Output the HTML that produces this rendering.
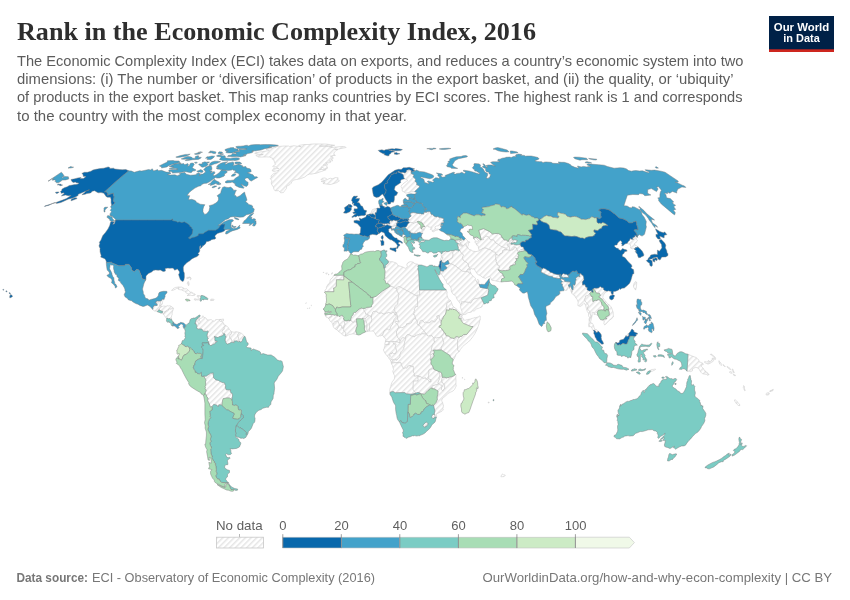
<!DOCTYPE html>
<html><head><meta charset="utf-8"><title>Rank in the Economic Complexity Index, 2016</title>
<style>
html,body{margin:0;padding:0;background:#fff;}
body{width:850px;height:600px;overflow:hidden;position:relative;font-family:"Liberation Sans",sans-serif;}
svg{position:absolute;left:0;top:0;}
text{font-family:"Liberation Sans",sans-serif;}
.title{font-family:"Liberation Serif",serif;font-weight:bold;font-size:25px;fill:#2e2e2e;}
.sub{font-size:14.8px;fill:#5c5c5c;}
.foot{font-size:13px;fill:#777;}
.leg{font-size:13px;fill:#5f5f5f;}
.logo{font-size:11px;font-weight:bold;fill:#fff;}
.nd path{fill:url(#hatch);stroke:#c6c6c6;stroke-width:0.5;stroke-linejoin:round;}
.cd path{fill-rule:evenodd;stroke:#7a7a7a;stroke-opacity:0.9;stroke-width:0.5;stroke-linejoin:round;}
</style></head><body>
<svg width="850" height="600" viewBox="0 0 850 600">
<defs>
<pattern id="hatch" patternUnits="userSpaceOnUse" width="4" height="4" patternTransform="rotate(-45)"><rect width="4" height="4" fill="#fff"/><rect width="4" height="1.5" y="1" fill="#e5e5e5"/></pattern>
</defs>
<rect width="850" height="600" fill="#fff"/>
<text class="title" x="17" y="40" textLength="519" lengthAdjust="spacingAndGlyphs">Rank in the Economic Complexity Index, 2016</text>
<text class="sub" x="17" y="66" textLength="726.5" lengthAdjust="spacingAndGlyphs">The Economic Complexity Index (ECI) takes data on exports, and reduces a country’s economic system into two</text>
<text class="sub" x="17" y="84.2" textLength="716.5" lengthAdjust="spacingAndGlyphs">dimensions: (i) The number or ‘diversification’ of products in the export basket, and (ii) the quality, or ‘ubiquity’</text>
<text class="sub" x="17" y="102.4" textLength="725.5" lengthAdjust="spacingAndGlyphs">of products in the export basket. This map ranks countries by ECI scores. The highest rank is 1 and corresponds</text>
<text class="sub" x="17" y="120.7" textLength="390" lengthAdjust="spacingAndGlyphs">to the country with the most complex economy in that year.</text>
<g id="logo">
<rect x="769" y="16" width="65" height="36" fill="#002147"/>
<rect x="769" y="49.3" width="65" height="2.7" fill="#ce261e"/>
<text class="logo" x="801.5" y="30.7" text-anchor="middle" textLength="55.4" lengthAdjust="spacingAndGlyphs">Our World</text>
<text class="logo" x="801.5" y="42.3" text-anchor="middle" textLength="36.5" lengthAdjust="spacingAndGlyphs">in Data</text>
</g>
<g class="nd">
<path d="M299.0,145.4L304.3,144.5L309.0,144.5L311.0,144.1L315.9,143.9L319.4,144.0L323.0,144.0L326.6,144.1L330.6,144.7L334.7,145.3L331.9,145.9L326.7,145.9L319.2,146.0L319.7,146.4L324.6,146.2L328.7,146.7L331.5,146.2L332.4,146.8L330.6,147.7L334.4,147.2L341.3,146.5L345.4,146.8L346.1,147.5L340.1,148.7L339.2,149.1L334.7,149.4L337.9,149.6L335.9,150.8L334.4,152.0L333.8,154.2L335.4,155.4L333.1,155.6L330.3,156.1L333.0,157.1L332.9,159.0L331.2,159.0L332.8,160.8L329.3,161.0L331.0,161.8L330.2,162.5L327.9,162.9L325.7,162.9L327.4,164.3L327.3,165.2L324.2,164.3L323.3,165.0L325.4,165.4L327.3,166.7L327.4,168.4L324.5,168.8L323.4,168.0L321.7,166.9L321.8,168.3L319.6,169.5L324.0,169.5L326.2,169.7L321.5,171.4L316.5,173.2L311.2,174.1L309.4,174.1L307.4,175.0L304.4,177.2L300.1,178.8L299.0,179.0L296.5,179.5L293.9,180.0L291.8,181.6L291.3,183.2L289.9,184.6L286.5,186.4L286.6,188.3L285.1,190.2L283.4,192.6L280.7,192.8L278.7,190.7L275.1,190.7L273.9,189.5L273.5,187.1L271.5,184.3L271.3,182.7L271.8,180.6L270.3,178.6L271.7,177.0L270.9,176.1L273.8,173.4L276.6,172.8L277.7,171.9L278.8,170.1L276.7,170.8L275.5,171.2L273.9,171.4L272.2,170.8L272.8,169.3L274.0,168.2L275.6,168.2L278.7,168.6L276.5,167.3L275.4,166.7L273.6,166.9L272.6,166.4L275.5,164.3L275.0,163.5L274.5,162.1L273.9,160.0L272.4,159.2L272.9,158.4L269.6,157.1L266.6,156.9L262.3,157.1L258.7,157.1L257.3,156.5L255.8,155.4L260.2,154.8L263.3,154.6L257.4,154.2L254.7,153.4L255.5,152.7L262.0,151.7L268.2,150.8L269.4,150.1L266.0,149.6L267.8,148.9L273.8,147.7L276.0,147.5L276.1,146.7L279.7,146.4L284.2,146.0L288.5,146.0L289.7,146.5L293.9,145.7L296.8,146.2L298.7,146.4L301.3,146.8L298.5,146.0Z"/>
<path d="M157.3,311.6L156.2,311.1L154.8,311.1L153.7,310.6L152.7,309.5L152.8,308.8L153.1,308.1L152.9,307.6L154.2,305.5L157.1,305.5L157.3,304.6L156.9,304.3L156.8,303.8L155.9,303.3L155.2,302.4L156.2,302.4L156.4,301.0L158.5,301.0L160.7,301.0L160.4,303.0L159.9,305.9L160.5,305.9L161.2,306.4L161.5,306.0L162.1,306.4L160.9,307.3L159.8,308.1L159.6,309.0L159.2,309.8L158.6,309.9L158.8,310.2L158.3,310.5L157.4,311.2Z"/>
<path d="M160.7,301.0L160.7,300.5L161.0,300.4L161.4,300.7L162.3,299.1L162.8,299.1L162.7,299.5L163.2,299.5L163.1,300.2L162.5,301.3L162.7,301.7L162.4,302.7L162.5,302.9L162.0,304.3L161.5,304.9L161.1,305.1L160.5,305.9L159.9,305.9L160.4,303.0Z"/>
<path d="M163.5,313.5L163.1,312.7L162.5,312.4L162.7,311.4L162.4,311.1L162.0,311.0L161.0,311.3L160.9,310.9L160.3,310.5L159.8,310.0L159.2,309.8L159.6,309.0L159.8,308.1L160.9,307.3L162.1,306.4L162.4,306.5L162.9,306.0L163.6,306.0L163.8,306.2L164.1,306.0L165.1,306.3L166.2,306.2L167.0,305.9L167.2,305.7L168.0,305.8L168.5,305.9L169.1,305.9L169.6,305.7L170.6,306.0L170.9,306.1L171.6,306.6L172.2,307.2L173.0,307.6L173.5,308.3L172.7,308.2L172.3,308.6L171.5,308.9L170.9,308.9L170.4,309.3L170.0,309.1L169.6,308.7L169.4,308.8L169.0,309.4L168.8,309.4L168.7,310.0L167.9,310.7L167.4,311.0L167.1,311.3L166.5,310.8L166.0,311.5L165.5,311.4L164.9,311.5L164.9,312.8L164.5,312.8L164.2,313.4Z"/>
<path d="M166.8,318.5L166.0,317.7L165.1,316.6L164.6,315.7L163.7,314.9L162.6,313.7L162.9,313.3L163.3,313.7L163.5,313.5L164.2,313.4L164.5,312.8L164.9,312.8L164.9,311.5L165.5,311.4L166.0,311.5L166.5,310.8L167.1,311.3L167.4,311.0L167.9,310.7L168.7,310.0L168.8,309.4L169.0,309.4L169.4,308.8L169.6,308.7L170.0,309.1L170.4,309.3L170.9,308.9L171.5,308.9L172.3,308.6L172.7,308.2L173.5,308.3L173.3,308.5L173.1,309.1L173.2,310.1L172.6,310.9L172.3,312.0L172.1,313.1L172.2,313.8L172.1,315.0L171.8,315.3L171.5,316.4L171.6,317.1L171.0,317.7L171.1,318.4L171.4,318.9L170.8,319.4L170.2,319.2L169.8,318.7L169.1,318.5L168.6,318.8L167.1,318.1Z"/>
<path d="M178.0,286.9L179.9,287.1L181.7,287.1L183.7,288.0L184.5,289.0L186.6,288.7L187.3,289.3L189.0,290.9L190.3,292.1L191.1,292.0L192.4,292.6L192.1,293.3L193.8,293.4L195.4,294.5L195.0,295.1L193.5,295.4L191.9,295.6L190.4,295.3L187.1,295.6L188.8,294.1L188.0,293.5L186.5,293.3L185.8,292.5L185.5,291.0L184.2,291.1L182.2,290.4L181.6,289.9L178.7,289.5L178.0,289.0L178.9,288.3L176.7,288.2L174.9,289.6L174.0,289.6L173.6,290.2L172.4,290.5L171.5,290.3L172.8,289.5L173.4,288.5L174.5,287.9L175.7,287.4L177.4,287.2Z"/>
<path d="M197.5,295.4L198.9,295.6L200.8,296.0L200.8,297.4L200.6,298.4L199.9,298.8L200.4,299.6L200.3,300.3L198.9,299.9L197.8,300.0L196.4,299.9L195.3,300.4L194.2,299.5L194.5,298.7L196.5,299.1L198.2,299.3L199.1,298.7L198.2,297.6L198.3,296.6L196.9,296.2Z"/>
<path d="M212.8,299.1L213.9,299.3L214.3,299.8L213.6,300.5L211.9,300.5L210.6,300.6L210.6,299.5L210.9,299.1Z"/>
<path d="M188.9,285.4L188.3,285.5L187.9,284.0L187.2,283.3L187.9,281.6L188.6,281.7L189.1,283.9ZM189.3,278.0L186.8,278.5L186.8,277.5L187.9,277.3L189.4,277.4ZM191.2,278.0L190.5,279.9L190.1,279.5L190.4,278.2L189.6,277.1L189.6,276.8Z"/>
<path d="M221.8,319.3L223.1,319.0L223.6,319.1L223.4,321.0L221.5,321.3L221.1,321.1L221.8,320.3Z"/>
<path d="M199.8,316.7L199.7,317.3L198.3,317.6L199.0,318.8L198.9,320.1L197.8,321.6L198.6,323.7L199.6,323.6L200.2,321.7L199.5,320.8L199.5,318.8L202.4,317.7L202.2,316.5L203.1,315.7L203.8,317.5L205.4,317.6L206.8,319.0L206.8,319.9L208.9,319.9L211.3,319.6L212.6,320.8L214.3,321.1L215.7,320.3L215.7,319.6L218.6,319.5L221.3,319.4L219.3,320.2L220.1,321.4L221.9,321.6L223.6,322.9L223.9,325.0L225.0,325.0L225.9,325.6L224.1,327.1L223.8,328.0L224.6,329.0L224.0,329.5L222.6,329.9L222.6,331.1L221.9,331.8L223.4,333.8L223.7,334.6L222.8,335.6L220.2,336.5L218.6,336.9L217.9,337.6L216.1,336.9L214.4,336.6L214.0,336.8L215.0,337.5L214.8,339.2L215.1,340.9L217.1,341.1L217.2,341.7L215.6,342.4L215.3,343.5L214.3,343.9L212.6,344.5L212.1,345.3L210.3,345.5L209.1,344.1L208.4,341.5L207.8,340.6L207.0,340.0L208.2,338.7L208.1,338.2L207.5,337.4L207.1,335.7L207.3,333.8L207.8,332.9L208.3,331.5L207.5,331.0L206.2,331.4L204.5,331.2L203.6,331.5L202.0,329.2L200.7,328.9L197.7,329.2L197.2,328.2L196.7,328.0L196.6,327.5L196.9,326.5L196.8,325.5L196.3,324.9L196.1,323.7L194.9,323.5L195.6,322.0L196.0,320.1L196.7,319.2L197.7,318.4L198.3,317.1Z"/>
<path d="M225.9,325.6L227.4,326.5L228.8,328.2L228.8,329.6L229.6,329.6L230.9,330.9L231.7,331.8L231.3,334.2L229.9,334.8L230.0,335.4L229.6,336.8L230.5,338.7L231.3,338.7L231.6,340.2L232.9,342.4L232.4,342.5L231.1,342.3L230.3,343.0L229.3,343.5L228.6,343.6L228.3,344.1L227.2,344.0L225.8,342.7L225.6,341.5L225.1,340.2L225.4,338.0L226.1,337.1L225.6,335.9L224.8,335.5L225.1,334.3L224.6,333.7L223.4,333.8L221.9,331.8L222.6,331.1L222.6,329.9L224.0,329.5L224.6,329.0L223.8,328.0L224.1,327.1Z"/>
<path d="M231.7,331.8L234.5,332.3L234.7,331.9L236.6,331.7L239.1,332.4L237.8,334.6L238.0,336.4L238.8,338.0L238.4,339.1L238.2,340.3L237.6,341.4L236.3,340.8L235.2,341.1L234.3,340.9L234.0,341.6L234.4,342.1L234.2,342.7L232.9,342.4L231.6,340.2L231.3,338.7L230.5,338.7L229.6,336.8L230.0,335.4L229.9,334.8L231.3,334.2Z"/>
<path d="M239.1,332.4L241.5,333.3L243.9,335.5L244.3,336.5L242.9,338.9L242.1,340.9L241.2,341.9L240.1,342.1L239.8,341.3L239.3,341.2L238.6,341.9L237.6,341.4L238.2,340.3L238.4,339.1L238.8,338.0L238.0,336.4L237.8,334.6Z"/>
<path d="M221.4,404.9L218.8,404.8L218.2,406.9L216.7,405.0L213.7,404.4L212.0,406.7L210.4,407.1L209.2,403.5L207.6,400.5L208.1,398.0L206.8,396.9L206.3,395.0L205.0,393.3L206.2,390.5L205.0,388.3L205.5,387.4L205.0,386.4L205.8,385.1L205.6,382.9L205.6,381.1L206.0,380.2L203.8,376.0L205.5,376.2L206.7,376.1L207.2,375.3L209.1,374.3L210.3,373.3L213.3,372.9L213.1,374.8L213.5,375.8L213.4,377.6L216.0,379.9L218.6,380.4L219.5,381.3L221.1,381.8L222.1,382.6L223.6,382.6L224.9,383.4L225.1,384.8L225.6,385.6L225.7,386.7L225.1,386.8L226.2,389.8L230.6,389.9L230.3,391.4L230.7,392.5L232.0,393.2L232.6,394.8L232.4,396.9L231.9,398.0L232.2,399.5L231.6,400.1L231.5,399.2L229.2,397.9L227.1,397.9L223.2,398.6L222.4,400.9L222.4,402.3L221.8,405.5Z"/>
<path d="M338.2,177.8L337.6,179.3L339.4,180.8L336.9,182.6L331.6,184.2L330.0,184.6L327.7,184.2L322.9,183.5L324.8,182.5L321.2,181.4L324.4,180.9L324.4,180.2L320.9,179.7L322.3,178.2L325.0,177.9L327.4,179.4L330.3,178.2L332.4,178.8L335.3,177.6Z"/>
<path d="M411.1,172.0L411.2,173.5L414.2,175.0L413.0,176.7L415.7,179.3L415.0,181.2L416.9,182.9L416.6,184.5L419.6,186.0L419.2,187.2L417.9,188.6L414.6,191.6L411.3,191.8L408.3,192.7L405.4,193.2L404.1,191.9L402.2,191.1L402.2,188.8L401.0,186.7L401.6,185.3L403.0,183.8L406.5,181.3L407.6,180.9L407.2,179.9L404.6,178.8L403.9,177.9L403.1,174.5L400.2,172.9L397.8,171.9L398.6,171.3L400.7,172.5L402.9,172.3L404.8,172.9L406.2,171.9L406.6,170.3L409.0,169.6L411.4,170.4Z"/>
<path d="M375.0,208.7L376.7,208.7L377.1,209.6L376.7,211.8L376.2,212.8L375.0,212.8L375.5,215.4L374.3,214.8L373.0,213.7L371.2,214.2L369.8,214.0L370.8,213.4L372.4,209.7Z"/>
<path d="M375.3,217.1L375.7,217.7L375.6,218.8L375.0,218.9L374.6,218.6L374.8,217.2Z"/>
<path d="M397.6,222.2L397.5,223.3L396.4,223.3L396.8,223.8L396.3,225.4L395.9,225.9L394.2,225.9L393.2,226.5L391.5,226.3L388.5,225.6L388.0,224.8L386.0,225.2L385.8,225.7L384.5,225.3L383.5,225.3L382.5,224.8L382.8,224.2L382.7,223.7L383.3,223.6L384.4,224.3L384.6,223.6L386.4,223.7L387.9,223.3L388.8,223.4L389.5,223.9L389.7,223.4L389.3,221.8L390.0,221.4L390.6,220.3L392.2,221.1L393.2,220.1L393.9,219.9L395.5,220.7L396.5,220.5L397.5,221.0L397.3,221.3Z"/>
<path d="M391.5,226.3L393.2,226.5L394.2,225.9L395.9,225.9L396.3,225.4L396.6,225.5L397.1,226.3L395.5,227.0L395.4,228.0L394.7,228.3L394.8,229.0L394.0,229.0L393.2,228.6L392.9,229.0L391.5,228.9L391.9,228.7L391.3,227.6Z"/>
<path d="M404.7,236.6L404.5,236.1L403.7,237.4L403.9,238.2L403.5,238.0L402.8,237.2L401.9,236.7L402.1,236.2L402.3,234.8L402.9,234.2L403.2,234.0L403.8,234.4L404.2,234.8L404.9,235.0L405.7,235.6L405.6,235.8L405.2,236.4Z"/>
<path d="M409.3,222.8L410.1,222.3L411.4,222.5L412.7,222.6L413.7,223.2L414.3,222.8L415.8,222.5L416.2,222.0L417.1,222.0L417.7,222.2L418.5,222.9L419.3,224.0L420.7,225.5L420.9,226.7L420.8,227.8L421.3,228.9L422.3,229.4L423.2,229.0L424.2,229.4L424.4,230.1L423.5,230.6L422.8,230.4L422.6,233.5L421.4,233.2L419.7,232.3L417.4,232.9L416.4,233.5L413.4,233.4L411.7,233.0L410.9,233.2L410.2,232.2L409.8,231.7L410.2,231.3L409.7,230.9L409.1,231.5L407.8,230.8L407.5,229.7L406.2,229.1L405.9,228.3L404.7,227.3L406.3,226.8L407.3,225.1L408.1,223.4Z"/>
<path d="M425.8,212.2L426.6,212.3L426.9,211.7L427.6,211.8L429.6,211.6L431.1,213.0L430.7,213.5L431.0,214.3L432.6,214.4L433.6,215.5L433.6,216.0L436.4,216.9L437.8,216.5L439.3,217.6L440.4,217.6L443.6,218.5L443.8,219.2L443.2,220.5L444.0,221.9L443.8,222.8L441.9,222.9L441.0,223.7L441.1,224.8L439.6,225.0L438.3,225.8L436.5,226.0L434.9,226.9L435.3,228.5L436.4,229.1L438.4,229.0L438.2,229.9L436.0,230.3L433.4,231.8L432.2,231.3L432.5,230.1L430.1,229.3L430.4,228.8L432.2,228.0L431.5,227.4L428.2,226.8L428.0,225.8L426.1,226.1L425.6,227.5L424.2,229.4L423.2,229.0L422.3,229.4L421.3,228.9L421.8,228.6L422.1,227.8L422.5,226.9L422.3,226.5L422.7,226.3L423.0,226.6L424.2,226.7L424.7,226.5L424.3,226.3L424.4,225.9L423.5,225.2L423.1,224.2L422.3,223.8L422.3,222.9L421.3,222.2L420.4,222.1L418.8,221.3L417.5,221.6L417.1,222.0L416.2,222.0L415.8,222.5L414.3,222.8L413.7,223.2L412.7,222.6L411.4,222.5L410.1,222.3L409.3,222.8L409.1,222.1L407.9,221.4L408.1,220.4L408.6,219.7L409.1,219.9L408.4,218.8L410.0,216.7L410.9,216.4L411.0,215.7L409.7,213.5L410.7,213.4L411.6,212.7L413.2,212.6L415.2,212.8L417.5,213.4L419.1,213.5L419.9,213.8L420.5,213.4L421.1,214.0L422.9,213.9L423.8,214.1L423.6,212.9L424.2,212.3Z"/>
<path d="M455.2,240.3L458.1,239.8L458.7,240.5L459.6,241.0L459.3,241.6L460.6,242.5L460.1,243.3L461.2,244.0L462.2,244.5L462.6,246.3L461.8,246.3L460.7,244.8L460.6,244.4L459.7,244.4L458.9,243.7L458.5,243.8L457.5,243.1L455.8,242.4L455.8,241.2Z"/>
<path d="M460.8,238.3L461.4,238.3L463.2,239.9L464.2,240.1L464.4,239.4L465.4,238.4L466.8,239.8L468.3,241.6L469.3,241.7L470.1,242.4L468.4,242.6L468.4,244.6L468.2,245.5L467.6,246.1L467.9,247.4L467.4,247.6L465.8,246.2L466.3,244.9L465.5,244.2L464.7,244.3L462.6,246.3L462.2,244.5L461.2,244.0L460.1,243.3L460.6,242.5L459.3,241.6L459.6,241.0L458.7,240.5L458.1,239.8L458.5,239.4L460.3,240.2L461.4,240.3L461.7,240.0L460.3,238.6ZM458.9,243.7L459.7,244.4L460.6,244.4L460.7,244.8L461.8,246.3L460.3,246.0L459.0,244.8L458.5,243.8Z"/>
<path d="M343.9,275.2L343.8,279.9L336.4,279.7L336.3,286.4L334.2,288.0L333.6,288.0L334.0,291.7L325.1,291.7L324.6,292.6L324.8,291.5L324.9,290.3L325.8,289.6L326.6,288.2L326.4,287.3L327.3,285.5L328.5,283.8L329.3,283.4L330.0,281.9L330.1,280.5L330.9,278.9L332.4,277.9L333.9,275.3Z"/>
<path d="M396.6,287.8L395.1,288.7L393.8,287.3L390.2,286.2L389.2,284.5L387.4,283.3L386.3,283.8L385.5,282.3L385.4,281.2L384.0,279.3L384.9,278.2L384.7,276.6L384.9,275.2L384.7,274.0L385.1,271.8L384.9,270.6L384.2,268.3L385.2,267.7L385.4,266.6L385.1,265.5L386.6,264.5L387.2,263.7L388.3,262.9L388.3,260.9L390.9,261.8L391.9,261.6L393.7,262.1L396.7,263.2L397.8,265.5L399.8,266.0L403.0,267.1L405.4,268.4L406.4,267.7L407.4,266.5L406.8,264.6L407.4,263.3L408.9,262.1L410.4,261.7L413.4,262.2L414.2,263.4L415.1,263.4L415.8,263.9L418.0,264.2L418.6,265.0L417.9,266.3L418.3,267.4L417.8,269.0L418.6,271.1L419.2,280.4L419.6,290.0L419.8,295.2L417.2,295.2L417.2,296.3L408.0,291.3L398.9,286.3Z"/>
<path d="M441.1,322.7L440.8,322.7L440.8,321.4L440.5,320.4L439.3,319.4L439.0,317.6L439.2,315.6L438.2,315.4L438.0,316.0L436.6,316.2L437.2,316.9L437.5,318.5L436.2,319.9L435.1,321.8L434.0,322.1L432.0,320.6L431.2,321.1L430.9,321.9L429.8,322.4L429.7,322.9L427.4,322.9L427.1,322.4L425.4,322.2L424.6,322.7L424.0,322.5L422.8,320.9L422.3,320.2L420.7,320.6L420.1,321.8L419.5,324.1L418.8,324.6L418.1,324.9L417.9,324.8L417.1,324.0L416.9,323.2L417.3,322.1L417.2,321.1L415.9,319.5L415.6,318.3L415.6,317.7L414.8,316.9L414.7,315.4L414.2,314.4L413.4,314.6L413.6,313.6L414.2,312.5L413.9,311.4L414.6,310.6L414.1,310.0L414.7,308.4L415.7,306.5L417.7,306.7L417.2,296.3L417.2,295.2L419.8,295.2L419.6,290.0L428.7,290.0L437.4,290.0L446.4,290.0L447.2,292.6L446.8,293.0L447.2,295.7L448.2,298.8L449.1,299.5L450.4,300.4L449.4,301.9L447.7,302.4L447.0,303.1L446.9,304.9L446.1,308.7L446.4,309.8L446.1,312.0L445.3,314.6L443.9,315.9L443.0,317.9L442.8,318.9L441.8,319.7L441.1,322.4Z"/>
<path d="M441.1,322.7L441.2,324.8L440.9,325.5L439.7,325.6L438.9,327.1L440.3,327.3L441.5,328.5L442.0,329.6L443.0,330.2L444.4,333.0L442.9,334.7L441.5,336.3L440.1,337.5L438.5,337.5L436.6,338.1L435.2,337.5L434.2,338.2L432.2,336.5L431.6,335.4L430.3,335.9L429.3,335.8L428.7,336.2L427.6,335.9L426.2,333.8L425.8,332.9L424.1,331.9L423.5,330.3L422.5,329.2L420.9,327.8L420.9,327.0L419.6,325.9L418.1,324.9L418.8,324.6L419.5,324.1L420.1,321.8L420.7,320.6L422.3,320.2L422.8,320.9L424.0,322.5L424.6,322.7L425.4,322.2L427.1,322.4L427.4,322.9L429.7,322.9L429.8,322.4L430.9,321.9L431.2,321.1L432.0,320.6L434.0,322.1L435.1,321.8L436.2,319.9L437.5,318.5L437.2,316.9L436.6,316.2L438.0,316.0L438.2,315.4L439.2,315.6L439.0,317.6L439.3,319.4L440.5,320.4L440.8,321.4L440.8,322.7Z"/>
<path d="M324.7,313.1L325.0,311.9L327.5,311.9L328.0,311.2L328.7,311.2L329.6,311.8L330.3,311.8L331.1,311.4L331.6,312.1L330.5,312.8L329.6,312.7L328.6,312.1L327.7,312.8L327.3,312.8L326.8,313.1Z"/>
<path d="M328.5,318.6L327.3,317.5L326.3,317.3L325.8,316.6L325.8,316.2L325.2,315.6L325.0,315.1L326.2,314.7L327.0,314.7L327.6,314.4L331.8,314.6L331.8,315.4L331.5,315.7L331.7,316.6L331.4,316.9L330.9,316.9L330.3,317.4L329.5,317.3Z"/>
<path d="M343.8,327.3L343.2,327.3L342.7,328.3L342.0,328.3L341.6,327.8L341.7,326.7L340.8,325.1L340.2,325.4L339.7,325.5L339.1,325.6L339.1,324.6L338.7,324.0L338.8,323.2L338.3,322.1L337.7,321.2L335.9,321.2L335.3,321.7L334.7,321.7L334.3,322.3L334.0,323.0L332.8,324.2L331.8,322.6L330.9,321.6L330.3,321.3L329.8,320.8L329.5,319.6L329.2,319.0L328.5,318.6L329.5,317.3L330.3,317.4L330.9,316.9L331.4,316.9L331.7,316.6L331.5,315.7L331.8,315.4L331.8,314.6L332.9,314.6L334.6,315.2L335.1,315.2L335.3,314.9L336.5,315.1L336.9,314.9L337.0,315.9L337.3,315.9L337.9,315.5L338.3,315.6L338.9,316.3L339.9,316.5L340.6,315.9L341.3,315.6L341.8,315.2L342.3,315.3L342.8,315.9L343.1,316.6L344.0,317.7L343.5,318.3L343.4,319.2L343.9,318.9L344.2,319.2L344.1,320.0L344.8,320.8L344.3,321.0L344.1,321.9L344.7,322.9L345.2,325.0L344.4,325.3L344.1,325.7L344.3,326.2L344.2,327.3Z"/>
<path d="M336.9,329.7L336.3,329.5L334.6,328.5L333.4,327.0L333.1,326.1L332.8,324.2L334.0,323.0L334.3,322.3L334.7,321.7L335.3,321.7L335.9,321.2L337.7,321.2L338.3,322.1L338.8,323.2L338.7,324.0L339.1,324.6L339.1,325.6L339.7,325.5L338.6,326.7L337.6,328.1L337.5,328.8Z"/>
<path d="M345.4,336.0L344.9,336.0L342.5,334.8L340.4,332.8L338.4,331.4L336.9,329.7L337.5,328.8L337.6,328.1L338.6,326.7L339.7,325.5L340.2,325.4L340.8,325.1L341.7,326.7L341.6,327.8L342.0,328.3L342.7,328.3L343.2,327.3L343.8,327.3L343.7,328.1L343.9,329.4L343.4,330.5L344.1,331.2L344.8,331.4L345.8,332.5L345.8,333.5L345.6,333.9Z"/>
<path d="M356.6,334.4L355.6,334.4L354.0,333.9L352.5,333.9L349.8,334.4L348.2,335.1L345.9,336.1L345.4,336.0L345.6,333.9L345.8,333.5L345.8,332.5L344.8,331.4L344.1,331.2L343.4,330.5L343.9,329.4L343.7,328.1L343.8,327.3L344.2,327.3L344.3,326.2L344.1,325.7L344.4,325.3L345.2,325.0L344.7,322.9L344.1,321.9L344.3,321.0L344.8,320.8L345.1,320.5L345.7,320.9L347.5,320.9L347.9,320.2L348.3,320.2L349.0,320.0L349.3,321.0L349.9,320.7L350.8,320.3L351.8,320.9L352.2,321.8L353.3,322.3L354.1,321.7L355.1,321.6L356.7,322.2L357.3,326.0L356.3,328.1L355.7,331.1L356.7,333.3Z"/>
<path d="M356.7,322.2L355.1,321.6L354.1,321.7L353.3,322.3L352.2,321.8L351.8,320.9L350.8,320.3L350.7,318.8L351.3,317.7L351.2,316.8L353.1,314.7L353.4,312.9L354.0,312.3L355.2,312.6L356.1,312.1L356.4,311.4L358.2,310.2L358.6,309.4L360.8,308.3L362.0,307.9L362.6,308.5L364.0,308.4L363.9,309.7L364.2,310.9L365.5,312.6L365.5,313.9L368.2,314.4L368.1,316.2L367.6,317.0L366.5,317.3L366.0,318.4L365.3,318.7L363.2,318.6L362.2,318.4L361.5,318.9L360.4,318.7L356.5,318.8L356.4,320.3Z"/>
<path d="M367.5,331.4L365.6,331.9L365.1,331.0L364.5,329.4L364.3,328.1L364.8,325.7L364.3,324.8L364.0,322.7L364.0,320.8L363.1,319.5L363.2,318.6L365.3,318.7L365.0,320.1L365.7,320.8L366.5,321.8L366.6,323.1L367.0,323.6L366.9,329.6Z"/>
<path d="M369.4,331.1L367.5,331.4L366.9,329.6L367.0,323.6L366.6,323.1L366.5,321.8L365.7,320.8L365.0,320.1L365.3,318.7L366.0,318.4L366.5,317.3L367.6,317.0L368.1,316.2L368.9,315.5L369.7,315.5L371.5,317.0L371.4,317.8L371.9,319.4L371.5,320.4L371.7,321.2L370.6,322.8L369.9,323.6L369.4,325.2L369.5,326.9Z"/>
<path d="M382.8,335.0L380.4,335.9L379.5,335.8L378.6,336.3L376.8,336.3L375.5,334.6L374.8,332.8L373.2,331.0L371.4,331.1L369.4,331.1L369.5,326.9L369.4,325.2L369.9,323.6L370.6,322.8L371.7,321.2L371.5,320.4L371.9,319.4L371.4,317.8L371.5,317.0L371.6,314.7L372.3,313.6L372.6,312.1L373.2,311.5L375.6,311.2L377.9,312.2L378.8,313.2L380.0,313.2L381.0,312.6L383.8,313.9L385.0,313.9L386.3,312.8L387.7,312.8L388.3,312.5L389.6,312.6L391.3,313.4L393.1,311.9L393.6,312.0L395.2,314.9L395.7,314.8L396.6,315.9L396.3,316.4L396.2,317.2L394.3,319.2L393.7,320.9L393.4,322.2L392.9,322.8L392.5,324.6L391.3,325.7L390.9,327.0L390.4,328.1L390.2,329.2L388.6,330.1L387.3,329.0L386.5,329.0L385.1,330.6L384.4,330.6L383.4,333.1Z"/>
<path d="M368.1,316.2L368.2,314.4L365.5,313.9L365.5,312.6L364.2,310.9L363.9,309.7L364.0,308.4L365.5,308.3L366.4,307.4L369.5,307.2L371.5,306.8L371.7,305.2L372.9,303.4L372.9,297.4L376.1,296.3L382.5,291.1L390.2,286.2L393.8,287.3L395.1,288.7L396.6,287.8L397.3,291.8L398.2,292.5L398.2,293.3L399.2,294.2L398.7,295.3L398.0,300.6L397.9,304.0L395.0,306.5L394.1,309.9L395.1,310.9L395.1,312.6L396.6,312.6L396.4,313.8L395.7,314.0L395.7,314.8L395.2,314.9L393.6,312.0L393.1,311.9L391.3,313.4L389.6,312.6L388.3,312.5L387.7,312.8L386.3,312.8L385.0,313.9L383.8,313.9L381.0,312.6L380.0,313.2L378.8,313.2L377.9,312.2L375.6,311.2L373.2,311.5L372.6,312.1L372.3,313.6L371.6,314.7L371.5,317.0L369.7,315.5L368.9,315.5Z"/>
<path d="M396.4,313.8L396.6,312.6L395.1,312.6L395.1,310.9L394.1,309.9L395.0,306.5L397.9,304.0L398.0,300.6L398.7,295.3L399.2,294.2L398.2,293.3L398.2,292.5L397.3,291.8L396.6,287.8L398.9,286.3L408.0,291.3L417.2,296.3L417.7,306.7L415.7,306.5L414.7,308.4L414.1,310.0L414.6,310.6L413.9,311.4L414.2,312.5L413.6,313.6L413.4,314.6L414.2,314.4L414.7,315.4L414.8,316.9L415.6,317.7L415.6,318.3L414.2,318.8L413.0,319.8L411.4,322.7L409.3,323.9L407.0,323.7L406.4,324.0L406.6,324.9L405.4,325.8L404.5,326.8L401.6,327.8L401.0,327.2L400.6,327.2L400.2,327.8L398.3,328.0L398.7,327.3L397.9,325.5L397.6,324.4L396.6,324.0L395.2,322.5L395.7,321.3L396.8,321.5L397.4,321.3L398.7,321.4L397.4,319.0L397.5,317.2L397.3,315.5Z"/>
<path d="M396.4,313.8L397.3,315.5L397.5,317.2L397.4,319.0L398.7,321.4L397.4,321.3L396.8,321.5L395.7,321.3L395.2,322.5L396.6,324.0L397.6,324.4L397.9,325.5L398.7,327.3L398.3,328.0L397.2,330.7L396.6,331.1L396.5,333.2L396.7,334.3L396.5,335.1L397.6,336.4L397.8,337.4L398.7,338.7L399.7,339.5L399.9,340.7L400.1,341.5L399.9,342.9L398.1,342.3L396.2,341.6L393.3,341.5L393.0,341.3L391.7,341.7L390.3,341.3L389.2,341.5L385.4,341.5L385.8,339.4L384.8,337.7L383.8,337.2L383.3,336.1L382.7,335.7L382.8,335.0L383.4,333.1L384.4,330.6L385.1,330.6L386.5,329.0L387.3,329.0L388.6,330.1L390.2,329.2L390.4,328.1L390.9,327.0L391.3,325.7L392.5,324.6L392.9,322.8L393.4,322.2L393.7,320.9L394.3,319.2L396.2,317.2L396.3,316.4L396.6,315.9L395.7,314.8L395.7,314.0Z"/>
<path d="M398.3,328.0L400.2,327.8L400.6,327.2L401.0,327.2L401.6,327.8L404.5,326.8L405.4,325.8L406.6,324.9L406.4,324.0L407.0,323.7L409.3,323.9L411.4,322.7L413.0,319.8L414.2,318.8L415.6,318.3L415.9,319.5L417.2,321.1L417.3,322.1L416.9,323.2L417.1,324.0L417.9,324.8L419.6,325.9L420.9,327.0L420.9,327.8L422.5,329.2L423.5,330.3L424.1,331.9L425.8,332.9L426.2,333.8L425.4,334.0L424.0,334.0L422.2,333.7L421.4,333.9L421.0,334.5L420.3,334.6L419.4,334.1L416.8,335.4L415.8,335.1L415.5,335.3L414.8,336.9L413.1,336.4L411.4,336.1L409.9,335.2L408.0,334.3L406.8,335.1L405.9,336.4L405.7,338.3L404.2,338.1L402.6,337.7L401.3,339.1L400.1,341.5L399.9,340.7L399.7,339.5L398.7,338.7L397.8,337.4L397.6,336.4L396.5,335.1L396.7,334.3L396.5,333.2L396.6,331.1L397.2,330.7Z"/>
<path d="M385.4,341.5L389.2,341.5L389.2,344.6L385.9,344.6L385.1,344.8L384.7,344.4Z"/>
<path d="M389.2,341.5L390.3,341.3L391.7,341.7L393.0,341.3L393.3,341.5L393.2,342.6L393.8,344.0L395.5,343.7L396.1,344.3L395.1,347.3L396.2,348.8L396.5,350.9L396.1,352.6L395.4,353.8L393.4,353.7L392.2,352.5L392.0,353.6L390.4,353.9L389.6,354.6L390.5,356.3L388.7,357.8L386.4,355.1L384.9,353.0L383.5,350.3L383.5,349.4L384.1,348.6L384.6,346.7L385.1,344.8L385.9,344.6L389.2,344.6Z"/>
<path d="M393.1,359.9L392.3,359.0L391.6,359.4L390.6,360.6L388.7,357.8L390.5,356.3L389.6,354.6L390.4,353.9L392.0,353.6L392.2,352.5L393.4,353.7L395.4,353.8L396.1,352.6L396.5,350.9L396.2,348.8L395.1,347.3L396.1,344.3L395.5,343.7L393.8,344.0L393.2,342.6L393.3,341.5L396.2,341.6L398.1,342.3L399.9,342.9L400.1,341.5L401.3,339.1L402.6,337.7L404.2,338.1L405.7,338.3L405.6,339.8L404.9,341.2L404.4,342.9L404.2,345.2L404.3,346.6L403.9,347.6L403.9,348.5L403.6,349.3L402.1,350.6L401.0,351.9L400.0,354.5L400.1,356.6L399.5,357.5L398.1,358.7L396.8,360.4L395.9,359.9L395.8,359.2L394.5,359.1L393.7,360.1Z"/>
<path d="M434.2,338.2L434.1,341.3L435.0,341.7L434.3,342.6L433.4,343.3L432.5,344.6L432.1,345.8L431.9,347.9L431.4,348.9L431.4,350.9L430.7,351.6L430.6,353.2L430.3,353.4L430.0,354.8L430.6,356.0L430.7,359.1L431.1,361.5L430.9,362.9L431.3,364.4L432.6,365.9L433.8,369.2L432.9,368.9L429.8,369.3L429.2,369.7L428.5,371.3L429.0,372.5L428.5,375.6L428.2,378.2L428.8,378.6L430.4,379.6L431.0,379.2L431.1,382.0L429.4,382.0L428.5,380.5L427.7,379.4L425.9,379.0L425.4,377.7L424.0,378.5L422.2,378.1L421.4,377.0L420.0,376.7L418.9,376.8L418.8,376.0L418.0,375.9L417.0,375.8L415.6,376.2L414.5,376.1L414.0,376.3L414.2,373.2L413.4,372.2L413.3,370.6L413.6,369.1L413.2,368.1L413.2,366.4L410.3,366.4L410.6,365.5L409.4,365.5L409.3,366.0L407.8,366.1L407.3,367.6L406.9,368.2L405.6,367.9L404.9,368.2L403.3,368.5L402.5,367.1L402.0,366.2L401.3,364.7L400.8,362.7L394.0,362.7L393.2,363.0L392.5,363.0L391.5,363.3L391.2,362.5L391.8,362.2L391.9,361.1L392.3,360.4L393.1,359.9L393.7,360.1L394.5,359.1L395.8,359.2L395.9,359.9L396.8,360.4L398.1,358.7L399.5,357.5L400.1,356.6L400.0,354.5L401.0,351.9L402.1,350.6L403.6,349.3L403.9,348.5L403.9,347.6L404.3,346.6L404.2,345.2L404.4,342.9L404.9,341.2L405.6,339.8L405.7,338.3L405.9,336.4L406.8,335.1L408.0,334.3L409.9,335.2L411.4,336.1L413.1,336.4L414.8,336.9L415.5,335.3L415.8,335.1L416.8,335.4L419.4,334.1L420.3,334.6L421.0,334.5L421.4,333.9L422.2,333.7L424.0,334.0L425.4,334.0L426.2,333.8L427.6,335.9L428.7,336.2L429.3,335.8L430.3,335.9L431.6,335.4L432.2,336.5Z"/>
<path d="M436.6,350.1L434.1,350.0L433.3,350.3L431.9,351.2L431.4,350.9L431.4,348.9L431.9,347.9L432.1,345.8L432.5,344.6L433.4,343.3L434.3,342.6L435.0,341.7L434.1,341.3L434.2,338.2L435.2,337.5L436.6,338.1L438.5,337.5L440.1,337.5L441.5,336.3L442.6,338.1L442.9,339.4L443.9,342.4L443.1,344.3L442.0,346.0L441.3,347.1L441.3,349.9Z"/>
<path d="M433.3,350.3L434.2,351.8L434.1,353.4L433.4,353.7L432.2,353.5L431.5,355.0L430.0,354.8L430.3,353.4L430.6,353.2L430.7,351.6L431.4,350.9L431.9,351.2Z"/>
<path d="M430.7,359.1L430.6,356.0L430.0,354.8L431.5,355.0L432.2,353.5L433.4,353.7L433.5,354.7L434.0,355.3L434.0,356.2L433.5,356.7L432.6,358.1L431.7,359.0Z"/>
<path d="M457.7,349.6L459.0,351.8L457.4,352.8L456.8,353.9L455.9,354.1L455.6,356.0L454.9,357.0L454.4,358.7L453.4,359.6L450.2,357.0L450.0,355.5L441.7,350.2L441.3,349.9L441.3,347.1L442.0,346.0L443.1,344.3L443.9,342.4L442.9,339.4L442.6,338.1L441.5,336.3L442.9,334.7L444.4,333.0L445.6,333.5L445.7,334.9L446.4,335.8L448.1,335.8L451.0,338.0L451.7,338.0L452.3,338.0L452.8,338.3L454.3,338.5L455.0,337.4L457.1,336.3L458.0,337.2L459.6,337.2L457.6,340.1Z"/>
<path d="M460.1,314.7L459.3,313.8L458.3,312.3L457.3,311.5L456.6,310.6L454.6,309.5L453.0,309.5L452.4,308.9L451.1,309.5L449.7,308.4L449.1,310.3L446.4,309.8L446.1,308.7L446.9,304.9L447.0,303.1L447.7,302.4L449.4,301.9L450.4,300.4L451.9,303.5L452.7,305.9L454.0,307.1L457.2,309.6L458.6,311.1L459.9,312.6L460.6,313.5L461.8,314.3L461.1,314.9Z"/>
<path d="M461.8,314.3L462.4,315.1L462.3,316.2L461.1,316.8L462.1,317.5L461.3,318.9L460.7,318.4L460.2,318.6L458.9,318.6L458.8,317.8L458.6,317.1L459.4,315.8L460.1,314.7L461.1,314.9Z"/>
<path d="M477.1,317.2L478.3,316.9L479.4,316.0L480.2,316.0L480.3,316.7L480.2,318.3L480.3,319.6L479.8,320.6L479.2,323.4L478.2,326.3L476.9,329.7L475.0,333.5L473.1,336.4L470.4,339.9L468.2,342.1L464.8,344.7L462.6,346.6L460.1,349.8L459.5,351.2L459.0,351.8L457.7,349.6L457.6,340.1L459.6,337.2L460.2,336.4L461.7,336.3L463.7,334.5L466.7,334.4L473.0,326.5L471.1,326.5L463.5,323.4L462.6,322.5L461.7,321.3L460.8,319.8L461.3,318.9L462.1,317.5L462.8,318.0L463.3,319.1L464.4,320.1L465.5,320.2L467.7,319.5L470.1,319.2L472.1,318.4L473.3,318.2L474.1,317.7L475.4,317.6L476.1,317.6Z"/>
<path d="M400.8,362.7L401.3,364.7L402.0,366.2L402.5,367.1L403.3,368.5L404.9,368.2L405.6,367.9L406.9,368.2L407.3,367.6L407.8,366.1L409.3,366.0L409.4,365.5L410.6,365.5L410.3,366.4L413.2,366.4L413.2,368.1L413.6,369.1L413.3,370.6L413.4,372.2L414.2,373.2L414.0,376.3L414.5,376.1L415.6,376.2L417.0,375.8L418.0,375.9L418.2,376.7L417.9,378.0L418.3,379.2L418.0,380.2L418.2,381.1L413.4,381.1L413.1,389.4L414.5,391.5L416.0,393.1L411.8,394.2L406.3,393.8L404.7,392.6L395.5,392.7L395.2,392.9L393.8,391.7L392.3,391.6L391.0,392.0L389.9,392.5L389.7,390.9L390.0,388.6L390.9,386.2L391.0,385.1L391.8,382.8L392.3,381.7L393.7,380.0L394.4,378.8L394.7,376.9L394.6,375.4L393.9,374.5L393.3,372.9L392.8,371.3L392.9,370.8L393.6,369.7L392.9,367.2L392.5,365.5L391.3,363.8L391.5,363.3L392.5,363.0L393.2,363.0L394.0,362.7ZM391.8,362.2L391.2,362.5L390.6,360.6L391.6,359.4L392.3,359.0L393.1,359.9L392.3,360.4L391.9,361.1Z"/>
<path d="M433.8,369.2L434.8,369.8L435.7,370.3L437.1,370.7L438.4,371.5L439.5,372.7L440.0,374.9L439.6,375.6L439.1,377.7L439.4,379.9L438.7,380.7L437.9,383.2L439.1,383.9L432.1,386.0L432.2,387.9L430.5,388.2L429.2,389.3L428.9,390.2L428.0,390.4L426.0,392.5L424.6,394.2L423.9,394.3L423.1,394.0L420.6,393.7L420.2,393.5L420.2,393.3L419.3,392.7L417.8,392.5L416.0,393.1L414.5,391.5L413.1,389.4L413.4,381.1L418.2,381.1L418.0,380.2L418.3,379.2L417.9,378.0L418.2,376.7L418.0,375.9L418.8,376.0L418.9,376.8L420.0,376.7L421.4,377.0L422.2,378.1L424.0,378.5L425.4,377.7L425.9,379.0L427.7,379.4L428.5,380.5L429.4,382.0L431.1,382.0L431.0,379.2L430.4,379.6L428.8,378.6L428.2,378.2L428.5,375.6L429.0,372.5L428.5,371.3L429.2,369.7L429.8,369.3L432.9,368.9Z"/>
<path d="M442.4,377.5L441.7,379.4L442.2,382.8L443.0,382.8L443.8,383.6L444.7,385.5L444.7,388.9L443.7,389.4L442.9,391.2L441.5,389.6L441.4,387.8L442.0,386.6L441.9,385.5L441.0,384.9L440.4,385.1L439.1,383.9L437.9,383.2L438.7,380.7L439.4,379.9L439.1,377.7L439.6,375.6L440.0,374.9L439.5,372.7L438.4,371.5L440.6,372.0L441.1,372.7L441.8,373.9Z"/>
<path d="M442.4,377.5L444.1,377.2L446.8,378.0L447.5,377.6L449.0,377.6L449.9,376.8L451.3,376.9L453.8,375.8L455.7,374.3L456.0,375.5L455.8,378.1L456.0,380.4L455.9,384.5L456.3,385.7L455.5,387.6L454.5,389.4L453.0,391.0L450.9,392.0L448.2,393.3L445.5,396.1L444.6,396.6L442.9,398.4L442.0,399.0L441.7,400.9L442.7,402.8L443.0,404.4L443.0,405.2L443.4,405.0L443.2,407.6L442.8,408.8L443.3,409.3L442.9,410.3L441.9,411.3L440.0,412.2L437.2,413.6L436.1,414.5L436.2,415.6L436.8,415.8L436.5,417.2L434.8,417.1L434.7,416.0L434.5,414.8L434.3,413.9L434.9,411.0L434.4,409.1L433.5,405.5L436.0,402.5L436.7,400.6L437.1,400.4L437.4,398.9L437.1,398.1L437.3,396.1L437.8,394.3L438.0,391.0L436.8,390.2L435.7,390.0L435.3,389.3L434.2,388.8L432.3,388.8L432.2,387.9L432.1,386.0L439.1,383.9L440.4,385.1L441.0,384.9L441.9,385.5L442.0,386.6L441.4,387.8L441.5,389.6L442.9,391.2L443.7,389.4L444.7,388.9L444.7,385.5L443.8,383.6L443.0,382.8L442.2,382.8L441.7,379.4Z"/>
<path d="M427.5,423.0L428.2,423.7L427.5,425.0L427.0,425.9L425.7,426.3L425.3,427.1L424.5,427.4L423.0,425.4L424.3,423.7L425.5,422.7L426.6,422.2Z"/>
<path d="M434.8,417.1L434.3,418.3L433.0,418.6L431.7,417.2L431.8,416.3L432.4,415.3L432.7,414.5L433.4,414.4L434.5,414.8L434.7,416.0Z"/>
<path d="M488.2,402.1L489.2,402.2L489.0,403.1L488.2,402.8Z"/>
<path d="M462.4,377.3L462.8,378.2L462.3,378.3ZM464.6,379.1L465.1,379.5L464.5,379.6Z"/>
<path d="M309.1,308.4L309.7,307.6L309.6,308.5ZM307.5,308.7L307.8,308.1L307.3,308.3ZM305.6,303.3L306.3,302.7L306.2,303.4ZM310.9,305.5L311.5,305.1L311.4,305.7Z"/>
<path d="M325.6,273.4L327.3,272.9L326.5,274.2ZM328.0,274.6L328.9,274.1L328.8,274.9ZM331.4,274.2L332.3,272.5L332.3,273.8ZM323.2,272.4L323.8,272.3L323.5,273.0Z"/>
<path d="M506.3,249.9L506.0,248.3L502.8,247.2L500.3,246.0L498.6,244.7L495.6,242.9L493.9,240.3L493.1,239.8L490.8,239.9L489.9,239.4L489.1,237.3L485.9,236.0L484.5,237.5L483.0,238.3L483.7,239.7L481.3,239.7L478.7,230.2L483.6,228.7L484.1,228.9L487.8,230.7L489.8,231.7L492.4,234.0L494.8,233.6L498.3,233.4L501.3,235.3L502.0,237.9L503.0,237.9L504.0,240.0L506.8,240.1L507.7,241.4L508.5,241.3L508.9,239.5L511.1,237.7L512.1,237.2L512.8,237.5L511.6,239.1L513.5,240.1L514.8,239.5L517.7,240.8L515.5,242.7L513.9,242.5L513.0,242.5L512.5,241.8L512.6,240.6L509.9,241.2L509.7,242.8L509.1,244.3L507.3,244.2L507.1,245.3L508.8,245.9L509.8,247.9L509.2,250.5L507.5,249.9Z"/>
<path d="M506.3,249.9L505.6,249.9L504.4,249.2L504.3,250.1L502.6,250.6L502.7,252.7L501.6,253.4L500.0,253.8L499.8,255.0L498.3,255.4L495.8,254.4L495.2,252.2L493.6,252.1L490.6,249.8L488.8,249.5L486.1,248.2L484.6,248.0L483.7,248.4L482.3,248.4L481.1,249.9L479.3,250.3L478.5,248.5L478.2,245.8L476.4,244.9L476.6,243.1L475.1,243.0L475.1,240.8L477.2,241.4L478.9,240.6L477.0,239.1L476.0,237.6L474.5,238.2L474.7,240.1L473.7,238.5L474.4,237.6L476.7,237.1L478.3,237.8L480.2,239.8L481.3,239.7L483.7,239.7L483.0,238.3L484.5,237.5L485.9,236.0L489.1,237.3L489.9,239.4L490.8,239.9L493.1,239.8L493.9,240.3L495.6,242.9L498.6,244.7L500.3,246.0L502.8,247.2L506.0,248.3Z"/>
<path d="M513.9,242.5L513.3,243.2L510.9,242.8L511.1,244.3L513.4,244.1L516.2,244.9L520.2,244.6L521.4,246.9L522.0,246.7L523.5,247.3L523.7,248.3L524.4,249.8L522.2,249.8L520.7,249.6L519.7,250.7L518.8,251.0L518.2,251.5L517.1,250.7L516.7,248.5L516.0,248.4L516.0,247.6L514.7,247.0L514.1,247.9L514.1,248.9L513.9,249.3L512.6,249.3L512.2,250.5L511.3,250.0L510.0,250.8L509.2,250.5L509.8,247.9L508.8,245.9L507.1,245.3L507.3,244.2L509.1,244.3L509.7,242.8L509.9,241.2L512.6,240.6L512.5,241.8L513.0,242.5Z"/>
<path d="M495.8,254.4L498.3,255.4L499.8,255.0L500.0,253.8L501.6,253.4L502.7,252.7L502.6,250.6L504.3,250.1L504.4,249.2L505.6,249.9L506.3,249.9L507.5,249.9L509.2,250.5L510.0,250.8L511.3,250.0L512.2,250.5L512.6,249.3L513.9,249.3L514.1,248.9L514.1,247.9L514.7,247.0L516.0,247.6L516.0,248.4L516.7,248.5L517.1,250.7L518.2,251.5L518.8,251.0L519.7,250.7L520.7,249.6L522.2,249.8L524.4,249.8L525.0,250.5L523.9,250.8L522.9,251.3L520.5,251.6L518.3,252.1L517.3,253.3L518.1,254.4L518.7,255.7L517.9,256.8L518.2,257.8L517.8,258.7L515.7,258.6L517.0,260.4L515.7,261.0L515.1,262.6L515.6,264.2L514.9,264.9L514.0,264.7L512.4,265.0L512.3,265.7L510.7,265.7L509.7,267.2L510.1,269.4L507.4,270.5L505.8,270.3L505.4,270.8L504.0,270.5L501.9,270.9L498.0,269.6L499.6,267.2L499.1,265.5L497.3,265.1L496.9,263.4L495.8,261.3L496.4,259.9L495.4,259.5L495.6,257.6Z"/>
<path d="M479.3,250.3L481.1,249.9L482.3,248.4L483.7,248.4L484.6,248.0L486.1,248.2L488.8,249.5L490.6,249.8L493.6,252.1L495.2,252.2L495.8,254.4L495.6,257.6L495.4,259.5L496.4,259.9L495.8,261.3L496.9,263.4L497.3,265.1L499.1,265.5L499.6,267.2L498.0,269.6L499.3,271.0L500.4,272.5L502.7,273.7L503.1,276.0L504.2,276.4L504.6,277.6L501.6,278.9L501.1,282.0L496.8,281.2L494.3,280.6L491.7,280.2L490.4,277.0L489.2,276.6L487.6,277.1L485.5,278.3L482.6,277.4L480.1,275.4L477.9,274.7L476.1,272.2L474.0,268.7L472.9,269.2L471.4,268.3L470.7,269.3L469.3,268.0L469.1,266.5L468.4,266.6L468.5,264.7L467.0,262.7L464.2,261.2L462.3,258.8L462.5,256.7L463.4,255.8L463.0,254.3L461.5,253.5L459.6,250.4L458.1,248.3L458.3,247.5L457.2,244.6L458.5,243.8L459.0,244.8L460.3,246.0L461.8,246.3L462.6,246.3L464.7,244.3L465.5,244.2L466.3,244.9L465.8,246.2L467.4,247.6L467.9,247.4L468.9,249.4L471.1,249.9L472.8,251.2L475.9,251.6L479.2,250.9Z"/>
<path d="M461.5,253.5L463.0,254.3L463.4,255.8L462.5,256.7L462.3,258.8L464.2,261.2L467.0,262.7L468.5,264.7L468.4,266.6L469.1,266.5L469.3,268.0L470.7,269.3L469.3,269.2L467.8,269.0L466.5,271.5L462.4,271.3L455.5,266.0L452.0,264.2L449.3,263.5L448.0,260.3L452.5,257.6L452.9,254.4L452.4,252.5L453.5,251.9L454.3,250.3L455.2,249.9L457.8,250.2L458.6,250.9L459.6,250.4Z"/>
<path d="M448.0,260.3L444.1,263.1L441.5,262.1L441.5,262.0L441.7,261.6L441.6,260.6L441.9,259.2L443.0,258.2L442.5,257.1L441.5,257.0L441.1,255.0L441.5,253.9L442.0,253.4L442.5,252.8L442.4,251.3L443.2,251.9L445.5,251.1L446.7,251.6L448.4,251.6L450.8,250.6L452.0,250.7L454.3,250.3L453.5,251.9L452.4,252.5L452.9,254.4L452.5,257.6Z"/>
<path d="M441.6,260.6L441.0,260.6L440.8,261.1L440.1,261.1L440.6,258.9L441.5,257.1L441.5,257.0L442.5,257.1L443.0,258.2L441.9,259.2Z"/>
<path d="M460.6,304.7L460.3,303.6L459.5,302.8L459.3,301.8L458.1,300.9L456.7,298.7L456.0,296.5L454.3,294.8L453.2,294.3L451.6,291.9L451.2,290.0L451.2,288.5L449.8,285.6L448.6,284.6L447.4,284.0L446.5,282.5L446.6,282.0L445.9,280.6L445.2,280.0L444.2,278.1L442.7,276.0L441.4,274.2L440.3,274.2L440.5,272.8L440.5,271.8L440.7,270.8L443.2,271.2L444.1,270.4L444.5,269.5L446.2,269.1L446.5,268.2L447.1,267.8L444.7,265.2L448.9,263.9L449.3,263.5L452.0,264.2L455.5,266.0L462.4,271.3L466.5,271.5L468.5,271.7L469.2,273.0L470.8,272.9L471.9,275.2L473.1,275.8L473.6,276.7L475.2,277.8L475.5,278.8L475.3,279.7L475.7,280.6L476.4,281.3L476.8,282.2L477.2,282.8L477.9,283.3L478.5,283.1L479.1,284.1L479.2,284.8L480.3,287.4L487.2,288.7L487.6,288.1L488.8,290.0L487.7,295.2L481.1,297.8L474.7,298.8L472.6,300.0L471.2,302.7L470.1,303.2L469.5,302.3L468.7,302.4L466.4,302.2L466.0,301.9L463.4,302.0L462.8,302.2L461.8,301.5L461.3,302.8L461.6,303.9Z"/>
<path d="M484.1,304.0L482.5,304.7L482.1,305.8L482.1,306.7L479.9,307.8L476.4,309.0L474.4,310.9L473.4,311.0L472.7,310.8L471.4,311.9L470.0,312.4L468.1,312.6L467.5,312.7L467.1,313.4L466.5,313.6L466.1,314.3L465.0,314.2L464.3,314.6L462.7,314.4L462.0,312.9L462.0,311.5L461.6,310.7L461.1,308.8L460.4,307.7L460.8,307.6L460.5,306.4L460.8,305.9L460.6,304.7L461.6,303.9L461.3,302.8L461.8,301.5L462.8,302.2L463.4,302.0L466.0,301.9L466.4,302.2L468.7,302.4L469.5,302.3L470.1,303.2L471.2,302.7L472.6,300.0L474.7,298.8L481.1,297.8L483.2,302.1Z"/>
<path d="M477.2,282.8L476.9,280.9L477.3,279.5L477.9,279.3L478.7,280.1L478.9,281.6L478.5,283.1L477.9,283.3Z"/>
<path d="M469.3,269.2L470.0,270.4L469.8,270.9L470.8,272.9L469.2,273.0L468.5,271.7L466.5,271.5L467.8,269.0Z"/>
<path d="M559.4,274.7L559.5,275.8L560.1,277.4L560.0,278.5L558.2,278.5L555.4,277.9L553.6,277.7L552.1,276.4L548.9,276.0L545.8,274.5L543.4,273.2L541.1,272.3L541.4,269.8L542.6,268.7L543.4,268.0L545.3,268.8L547.9,270.5L549.2,270.9L550.2,272.2L552.1,272.7L554.1,273.8L556.8,274.4Z"/>
<path d="M567.4,274.9L568.5,275.8L568.7,277.4L566.9,277.4L565.0,277.3L563.6,277.7L561.4,276.7L561.3,276.2L562.3,274.2L563.4,273.6L565.1,274.2L566.3,274.2Z"/>
<path d="M572.2,289.9L572.5,291.8L571.6,291.4L572.1,293.5L571.2,292.1L570.9,290.8L570.3,289.5L569.1,288.0L567.1,287.9L567.4,289.0L566.9,290.4L565.9,289.9L565.6,290.4L564.9,290.1L564.0,289.8L563.4,287.7L562.3,285.7L562.4,284.2L560.9,283.5L561.3,282.5L562.5,281.5L560.7,280.2L561.1,278.4L563.1,279.5L564.2,279.6L564.7,281.5L566.9,281.8L569.0,281.8L570.4,282.2L569.7,284.4L568.7,284.6L568.3,286.1L569.7,287.4L569.8,285.8L570.4,285.7Z"/>
<path d="M588.5,294.7L587.3,295.9L585.7,296.0L585.1,298.8L584.2,299.3L585.6,301.6L587.3,303.5L588.5,305.2L588.0,307.5L587.2,307.9L587.9,309.3L589.7,311.3L590.1,312.8L590.2,314.0L591.3,316.4L590.2,318.8L589.3,321.5L589.0,319.5L589.5,317.6L588.6,316.0L588.5,313.2L587.4,311.8L586.4,308.7L585.6,305.4L584.3,303.2L583.0,304.5L580.6,306.4L579.3,306.2L577.8,305.5L578.2,302.3L577.4,299.9L575.2,296.9L575.3,295.9L574.0,295.6L572.1,293.5L571.6,291.4L572.5,291.8L572.2,289.9L573.3,289.3L572.9,288.2L573.3,287.3L572.9,284.6L574.8,285.2L575.4,283.0L575.3,281.8L576.1,279.6L575.7,278.1L578.3,276.3L579.9,276.7L579.4,275.1L580.1,274.7L579.7,273.7L580.9,273.5L582.0,275.0L583.1,275.6L583.7,277.6L584.0,279.8L582.3,282.0L582.6,285.0L584.9,284.6L585.8,287.0L587.3,287.5L587.0,289.7L588.9,290.7L589.9,291.1L591.5,290.4L591.7,291.5L590.0,293.2L589.7,294.1Z"/>
<path d="M598.1,315.6L595.9,314.4L593.9,314.4L594.1,312.4L592.1,312.4L592.2,315.3L591.3,319.1L590.7,321.4L591.0,323.3L592.5,323.4L593.6,325.7L594.1,328.0L595.5,329.5L596.9,329.8L598.1,331.2L597.4,332.2L595.9,332.6L595.7,331.2L593.8,330.1L593.4,330.5L592.4,329.5L592.0,328.2L590.7,326.8L589.5,325.5L589.2,327.1L588.7,325.6L588.8,324.0L589.3,321.5L590.2,318.8L591.3,316.4L590.2,314.0L590.1,312.8L589.7,311.3L587.9,309.3L587.2,307.9L588.0,307.5L588.5,305.2L587.3,303.5L585.6,301.6L584.2,299.3L585.1,298.8L585.7,296.0L587.3,295.9L588.5,294.7L589.7,294.1L590.8,294.9L591.2,296.5L592.7,296.6L592.6,299.4L592.9,301.7L595.1,300.1L595.8,300.6L597.2,300.5L597.5,299.6L599.2,299.8L601.3,301.9L601.8,304.5L603.9,306.8L604.1,309.0L603.5,310.2L601.3,309.8L598.4,310.3L597.2,312.5Z"/>
<path d="M607.2,291.2L604.5,293.4L603.0,295.9L602.8,297.7L604.9,300.4L607.6,303.8L609.9,305.4L611.5,307.5L613.2,312.4L613.3,317.0L611.6,318.7L609.1,320.4L607.4,322.5L604.7,325.0L603.8,323.3L604.3,321.5L602.5,320.0L604.4,319.0L606.8,318.8L605.6,317.2L609.3,315.2L609.2,312.1L608.5,310.3L608.6,307.7L607.7,305.9L605.8,304.1L604.0,301.8L601.6,298.7L598.7,297.1L599.2,296.2L600.5,295.5L599.3,293.2L596.5,293.2L595.1,290.8L593.5,288.8L594.6,288.1L596.4,288.2L598.5,287.9L600.2,286.5L601.5,287.4L603.6,287.9L603.5,289.4L604.8,290.5Z"/>
<path d="M626.1,335.6L627.0,334.6L628.9,333.2L628.8,334.5L628.8,336.1L627.7,336.1L627.2,336.9Z"/>
<path d="M650.2,370.6L650.5,370.0L652.5,369.4L654.1,369.3L654.9,369.0L655.7,369.3L654.8,370.0L652.3,371.2L650.3,371.9L650.4,371.1Z"/>
<path d="M636.7,283.8L636.2,287.9L635.6,290.1L634.0,287.9L633.4,285.9L634.1,283.4L635.5,281.4L636.7,282.2Z"/>
<path d="M637.2,236.9L637.7,237.3L636.8,237.2L636.4,238.1L636.3,238.9L637.5,240.8L636.7,241.4L636.5,241.8L636.2,242.6L635.0,243.0L634.4,243.7L634.9,244.8L634.9,245.1L635.9,245.5L637.7,246.7L637.7,247.3L636.9,247.5L635.4,247.6L635.2,248.8L634.2,248.7L634.1,248.9L632.9,248.4L632.8,248.9L632.3,249.1L632.0,248.6L631.3,248.4L630.5,248.0L630.6,246.8L630.9,246.5L630.5,246.1L630.4,244.7L630.0,244.2L628.6,244.0L627.3,243.3L628.1,241.6L629.7,240.2L630.1,238.4L631.6,239.2L633.4,239.3L632.3,237.9L634.9,236.8L634.9,235.3Z"/>
<path d="M688.0,354.2L692.0,356.0L696.1,357.5L697.6,358.8L698.9,360.1L699.1,361.7L702.9,363.3L703.3,364.6L701.2,364.9L701.5,366.7L703.4,368.4L704.7,371.1L706.0,371.1L705.8,372.2L707.5,372.7L706.8,373.2L709.1,374.2L708.7,375.0L707.2,375.2L706.7,374.5L704.8,374.2L702.5,373.8L700.9,372.2L699.8,370.7L698.8,368.5L695.9,367.3L693.9,368.1L692.4,368.9L692.5,370.8L690.6,371.7L689.4,371.3L687.0,371.2L687.6,362.7ZM721.6,365.2L721.0,365.5L720.1,364.5L719.2,362.8L718.8,360.8L719.1,360.6L719.3,361.3L720.0,361.9L721.0,363.6L722.0,364.5ZM712.9,361.7L711.7,361.9L711.3,362.6L710.0,363.3L708.8,363.9L707.5,363.9L705.7,363.1L704.5,362.4L704.7,361.6L706.7,362.0L708.0,361.8L708.4,360.5L708.8,360.4L708.9,361.8L710.2,361.6L710.9,360.7L712.3,359.8L712.1,358.3L713.5,358.2L713.9,358.6L713.8,360.1ZM715.7,359.1L715.0,359.8L714.6,358.3L714.2,357.3L713.1,356.4L711.9,355.3L710.3,354.5L710.9,353.9L712.1,354.7L712.9,355.2L713.8,355.9L714.7,356.9L715.5,357.8Z"/>
<path d="M735.0,374.7L735.5,375.7L733.9,375.6L733.2,374.0L734.5,374.7ZM732.3,373.2L731.4,373.2L730.0,372.9L729.6,372.6L729.8,371.5L731.3,371.9L732.0,372.5ZM734.3,372.4L733.9,372.9L732.4,370.7L732.1,369.1L732.9,369.1L733.5,371.2ZM730.5,369.2L730.5,369.7L728.8,368.6L727.7,367.6L726.9,366.8L727.2,366.5L728.2,367.1L730.0,368.3ZM725.3,366.6L724.9,366.7L723.9,366.1L723.1,365.1L723.2,364.6L724.5,365.7Z"/>
<path d="M745.4,390.4L744.6,390.7L744.0,389.6L744.3,388.9ZM744.5,386.4L744.5,388.5L743.9,388.1L743.4,388.3L743.3,387.6L743.6,385.6Z"/>
<path d="M737.8,402.4L739.2,404.0L740.1,405.2L739.1,405.8L738.0,405.1L736.7,404.0L735.6,402.6L734.6,400.7L734.5,399.9L735.4,399.9L736.5,400.8L737.3,401.7Z"/>
<path d="M768.8,392.6L769.4,393.4L768.7,394.8L767.2,395.1L766.0,394.8L766.1,393.6L767.2,392.7L768.1,393.1ZM771.4,391.2L769.8,391.8L769.8,390.8L771.0,390.3L771.8,390.1L773.3,389.3L773.0,390.6Z"/>
<path d="M502.4,473.9L503.4,474.7L505.2,475.0L505.1,475.5L504.1,476.6L500.9,476.8L501.4,475.4L502.1,474.4Z"/>
</g>
<g class="cd">
<path fill="#43a2ca" d="M128.6,170.8L131.5,171.0L134.2,172.3L139.5,170.8L141.8,171.0L148.7,169.5L150.5,169.9L152.3,168.8L153.6,171.0L157.6,169.6L158.4,170.8L161.5,170.3L166.1,172.1L169.9,172.3L171.0,173.4L167.6,174.5L170.2,175.0L175.0,174.8L177.2,175.7L180.3,174.5L179.4,173.7L181.2,172.9L184.8,172.5L186.4,174.3L190.4,175.2L196.0,174.8L196.8,173.4L198.7,173.0L200.7,173.9L199.0,175.9L201.5,174.1L202.9,174.1L205.5,171.9L204.8,170.6L203.6,169.7L205.8,167.3L209.1,165.8L211.1,166.0L211.7,167.1L212.0,169.5L209.6,170.6L212.4,171.0L210.5,173.2L214.2,171.4L215.1,173.0L213.4,174.5L213.7,176.1L216.8,174.5L219.4,172.5L221.4,170.1L223.6,170.3L225.9,170.6L227.3,171.7L226.7,172.8L224.4,174.1L224.8,175.2L223.8,176.3L219.5,177.9L216.9,178.1L215.5,177.5L214.2,178.6L211.2,180.6L210.0,181.6L206.8,183.2L204.1,183.4L202.1,184.3L200.8,185.8L198.6,186.2L194.9,188.1L191.3,190.7L189.2,192.6L187.1,195.5L189.7,195.7L188.9,198.1L188.7,199.8L191.7,199.3L194.7,200.3L196.0,201.3L196.6,202.5L198.5,203.2L200.0,204.2L203.0,204.5L204.9,204.7L203.7,206.7L203.0,209.2L203.0,211.9L204.7,214.4L206.7,213.7L209.0,210.9L209.8,207.2L209.2,205.7L212.8,204.7L215.8,203.0L217.8,201.3L218.5,199.6L218.4,197.4L217.1,195.7L220.8,193.1L221.1,190.9L222.6,187.4L224.3,186.7L226.9,187.4L228.6,187.6L230.5,187.1L231.7,187.8L233.1,189.3L233.2,190.2L236.4,190.2L235.3,192.3L234.4,195.2L235.9,195.7L236.7,197.2L240.0,195.7L243.1,193.1L244.6,192.1L245.1,194.3L246.2,197.2L247.0,200.1L245.6,201.8L247.5,203.0L248.7,204.5L251.5,205.2L252.6,206.0L252.6,207.9L253.8,208.4L254.3,209.2L253.5,212.2L251.9,212.9L250.1,213.9L246.5,214.7L243.3,216.9L239.9,217.2L235.6,216.7L232.7,216.7L230.6,216.9L228.3,218.7L225.3,219.7L221.1,223.3L217.9,225.6L219.8,225.1L224.2,221.8L229.1,219.7L232.3,219.5L233.6,220.7L231.3,222.3L231.0,225.1L230.9,227.1L233.2,228.4L236.9,227.9L239.8,225.1L239.4,226.8L240.3,227.9L237.4,229.4L232.2,230.9L230.0,232.0L226.9,234.0L225.5,233.8L226.0,231.5L230.4,229.4L227.1,229.4L224.7,229.9L218.2,231.5L206.9,234.0L197.4,237.1L188.8,238.9L188.7,232.7L187.2,226.3L179.6,225.1L171.2,221.2L164.0,221.2L156.8,221.2L149.6,221.2L142.4,221.2L135.2,221.2L128.0,221.2L120.8,221.2L113.6,221.2L115.9,220.0L115.6,219.2L113.4,217.4L112.7,216.4L109.8,215.4L110.3,213.2L111.6,211.7L110.3,210.4L111.5,208.4L110.6,206.7L111.6,205.5L113.6,204.2L114.9,202.8L113.2,201.0L113.7,198.4L114.0,196.7L113.4,195.5L113.3,194.5L113.3,193.3L110.8,194.0L107.5,195.5L107.7,193.8L107.4,192.8L106.2,192.1L104.4,192.1L112.2,184.8L120.2,177.7Z"/>
<path fill="#43a2ca" d="M251.5,215.7L249.4,218.0L251.1,217.1L252.1,217.7L251.3,218.5L252.8,219.2L253.8,218.6L255.6,219.3L254.5,221.2L256.0,220.7L256.0,222.0L256.1,223.8L254.7,226.0L253.8,226.1L252.5,225.6L253.5,223.5L253.1,223.1L250.1,225.3L248.9,225.3L250.6,224.0L248.9,223.5L246.7,223.5L242.7,223.5L242.7,222.8L244.2,221.9L243.6,221.2L245.7,219.7L249.0,215.7L250.8,214.2L252.7,213.4L253.7,213.4ZM113.6,221.2L112.4,221.5L109.8,220.5L109.9,219.5L108.6,218.7L108.7,218.0L107.0,217.5L107.3,216.1L107.8,215.5L109.5,216.1L110.5,216.4L112.2,216.7L112.3,217.6L112.5,218.7L113.7,219.8ZM105.8,207.3L107.8,207.1L104.9,210.0L105.0,212.0L104.2,212.0L103.9,210.8L104.1,209.7L103.8,208.9L104.3,207.8L105.1,207.0ZM257.7,177.5L255.7,178.4L251.3,181.1L249.7,180.2L248.1,177.9L245.8,178.1L244.8,179.5L245.8,180.9L247.7,182.0L248.1,182.5L248.0,184.8L246.7,186.4L244.6,186.0L241.1,184.1L242.6,186.0L243.9,187.4L243.6,188.3L239.2,187.4L236.2,186.0L234.7,184.8L235.6,184.1L233.6,182.9L231.8,181.8L231.4,182.5L226.0,182.9L225.0,182.0L227.2,180.4L230.5,180.4L234.3,180.0L234.2,179.3L235.6,178.1L239.0,175.9L239.2,175.0L239.1,174.1L237.3,173.0L234.2,172.3L235.7,171.9L234.9,170.3L233.4,170.3L232.7,169.5L231.4,170.1L228.1,170.6L222.6,169.9L219.5,169.3L217.0,169.0L216.4,168.2L218.7,167.3L216.4,167.3L217.8,165.2L220.8,163.3L223.1,162.5L227.8,161.8L225.4,163.1L225.4,164.6L228.3,162.9L233.2,161.9L234.1,164.1L232.9,165.4L236.4,164.9L238.7,164.0L241.3,165.2L243.0,166.0L242.4,167.1L245.9,166.5L246.5,168.0L249.9,168.8L250.9,169.7L251.2,171.7L247.5,172.8L250.8,174.1L253.0,174.8L254.4,176.8L257.1,176.8ZM181.2,163.3L179.4,164.2L183.8,163.6L184.8,164.7L187.8,163.6L188.4,164.3L187.6,166.4L189.3,165.5L190.5,163.3L192.2,163.0L193.5,163.3L194.3,164.2L193.2,166.3L192.2,167.8L193.9,168.8L196.0,169.9L194.9,170.8L192.1,171.0L192.3,171.8L191.1,172.7L188.4,172.3L186.0,171.7L184.0,171.8L180.1,172.6L172.3,173.1L172.4,172.1L170.8,171.5L169.0,171.7L168.8,170.0L170.1,169.8L173.1,169.4L175.3,169.5L177.9,169.1L175.2,168.6L171.4,168.8L169.2,168.7L173.9,167.1L171.4,167.1L169.2,166.6L172.3,165.0L174.4,164.1L180.2,162.9ZM167.0,166.9L161.5,168.0L161.7,167.0L159.3,165.9L161.1,165.0L164.1,163.5L167.3,162.1L167.4,160.8L173.1,160.5L174.8,160.9L178.7,161.0L179.5,161.6L180.1,162.5L177.4,163.0L171.8,164.5L168.1,166.0ZM270.1,144.6L273.6,144.8L276.3,145.0L278.4,145.4L278.0,145.8L274.0,146.5L270.3,146.8L268.7,147.2L271.8,147.2L267.5,148.2L264.7,148.7L260.9,150.1L257.7,150.4L256.4,150.8L251.8,151.0L253.6,151.2L252.2,151.5L252.6,152.4L250.5,153.1L247.7,153.6L246.3,154.4L243.6,154.9L243.4,155.4L246.0,155.3L245.6,155.8L240.4,157.0L237.0,156.4L232.2,156.7L230.2,156.5L227.4,156.4L228.2,155.5L231.5,155.0L232.3,153.6L233.4,153.5L236.4,154.3L235.8,153.1L233.8,152.7L235.8,152.0L238.9,151.5L240.0,150.9L238.8,150.2L239.2,149.3L243.0,149.4L244.0,149.6L246.9,148.9L243.9,148.7L238.8,148.8L237.1,148.2L236.7,147.6L235.7,147.1L236.1,146.5L238.6,146.2L240.3,146.2L243.3,145.9L246.1,145.3L247.7,145.4L248.6,145.9L250.7,145.0L252.8,144.8L255.4,144.6L259.6,144.6L260.2,144.7L264.4,144.5L267.2,144.6ZM221.0,155.2L221.9,155.8L224.9,155.8L225.5,156.4L224.3,157.2L225.6,157.6L226.1,158.1L228.1,158.2L230.1,158.4L233.0,157.9L236.3,157.8L238.6,157.9L239.6,158.7L239.2,159.5L237.7,160.1L235.0,160.5L233.2,160.3L228.5,160.6L225.2,160.6L223.0,160.4L219.5,159.7L220.1,158.6L221.0,157.6L220.4,156.7L217.5,156.5L216.5,155.9L218.0,155.0ZM237.9,150.3L239.0,150.9L236.3,151.5L232.0,152.9L229.3,153.0L226.5,152.8L225.8,152.0L226.7,151.3L228.4,150.8L225.8,150.9L224.9,150.2L225.1,149.5L227.1,148.7L228.8,148.2L230.4,148.0L230.3,147.7L233.6,147.6L234.3,148.5L236.2,148.8L238.1,149.2ZM198.3,156.9L198.0,157.6L199.8,157.3L201.3,157.4L200.4,158.4L198.3,159.4L192.6,159.7L187.6,160.6L185.2,160.6L185.8,159.9L190.2,159.0L182.8,159.3L181.2,158.9L185.9,156.9L188.1,156.4L191.5,157.1L192.7,158.3L195.1,158.4L195.4,156.5L197.8,155.8L199.0,156.0ZM215.1,179.6L214.7,180.6L215.9,180.3L216.5,180.9L217.9,181.6L219.4,182.3L218.9,183.5L220.3,183.3L221.1,184.0L219.0,184.8L216.6,184.2L216.3,183.2L213.7,184.4L210.4,185.6L210.7,184.2L208.2,184.5L210.5,183.3L211.9,181.5L214.0,179.4ZM204.9,161.8L206.3,162.2L209.4,161.9L209.2,162.5L206.8,163.5L208.3,164.4L206.2,166.3L202.8,167.2L201.4,167.0L201.0,166.2L198.6,164.5L199.3,163.9L202.3,164.1L202.0,162.8ZM214.1,164.0L210.9,165.6L209.1,165.5L209.9,163.6L210.9,162.6L212.6,161.7L214.7,161.2L217.9,161.2L220.5,161.7L216.4,163.6ZM214.3,155.9L214.4,156.8L213.3,157.9L210.9,159.4L208.1,159.6L206.8,159.2L208.2,158.1L205.5,158.2L207.2,156.7L208.8,156.7L211.9,156.0L213.9,156.2ZM190.2,154.1L187.8,155.6L185.7,156.3L184.1,156.4L180.1,157.2L177.2,157.5L175.8,157.1L180.5,155.6L185.5,154.4L187.7,154.4ZM223.2,154.3L222.4,154.4L219.8,154.3L220.0,153.7L223.0,153.8L223.6,154.1ZM199.3,154.0L195.7,154.6L194.4,153.9L196.5,153.3L198.9,153.1L200.5,153.4ZM202.5,152.3L200.1,152.6L197.7,152.6L198.1,152.4L200.4,151.8L201.1,151.9ZM221.5,153.3L218.8,153.7L218.1,153.3L218.4,152.5L219.3,151.8L221.1,151.9L221.8,152.0L222.7,152.6ZM215.8,152.8L215.4,153.6L213.3,153.4L211.6,152.8L208.5,152.7L210.6,152.1L209.5,151.7L210.4,151.0L212.9,151.2L215.9,151.9ZM203.1,171.9L201.4,172.6L199.7,172.0L198.2,172.2L196.7,171.2L198.8,170.5L200.8,169.6L202.0,170.2L202.7,170.6L202.8,171.0ZM234.1,217.8L234.8,217.5L237.2,218.2L238.9,219.2L238.8,219.7L237.8,219.7L235.5,219.0ZM232.6,225.0L232.9,226.2L234.3,226.5L236.2,226.5L234.9,227.5L234.1,227.7L231.8,226.6L231.6,225.7ZM220.3,187.7L218.9,189.0L218.2,188.7L218.1,188.0L218.3,187.9L219.5,187.2L220.1,187.2ZM216.4,186.4L213.5,187.7L212.2,187.7L212.2,187.0L214.3,185.9L216.7,186.0ZM233.3,176.2L231.4,176.3L231.7,175.2L233.2,174.0L235.0,173.7L235.9,174.3L235.3,175.3L234.9,175.6ZM236.3,161.9L239.7,162.1L241.6,163.3L241.3,163.9L239.6,163.8L237.9,163.8L235.9,164.1L235.6,163.9L234.7,162.8L235.4,162.1ZM195.7,163.5L194.5,162.3L196.7,162.2L197.4,162.6Z"/>
<path fill="#0868ac" d="M115.5,220.0L115.9,220.0L115.1,221.8L114.3,224.0L112.7,224.3L114.4,222.3L111.0,221.5L110.4,222.8L109.8,225.3L109.1,226.8L108.0,228.9L105.3,232.7L102.7,235.8L100.9,240.2L99.4,242.3L99.8,243.6L99.0,245.9L100.2,248.8L100.0,249.3L100.1,251.9L101.2,255.6L100.7,257.1L103.0,257.9L104.7,258.7L105.6,259.7L106.3,261.3L106.3,262.6L111.8,262.1L111.3,262.6L118.6,265.7L124.8,265.7L125.2,264.4L129.0,264.4L131.3,267.6L131.7,270.2L134.4,271.7L136.3,269.6L138.0,269.6L139.4,270.7L140.5,274.1L141.4,275.6L141.9,278.5L145.0,279.8L145.9,279.8L146.0,275.9L148.4,273.6L151.6,272.0L153.3,270.4L155.5,269.9L158.3,270.2L160.3,269.9L163.1,271.5L164.9,271.2L165.4,271.0L165.3,269.4L165.1,268.6L167.9,268.1L169.8,268.3L172.3,268.1L173.5,268.6L174.7,270.2L177.2,268.9L177.9,269.4L179.3,271.5L179.5,272.9L178.6,274.6L179.6,277.7L180.4,279.8L181.1,280.6L183.0,281.6L183.9,280.1L184.4,277.2L184.3,273.0L183.5,271.2L183.3,269.1L183.3,267.3L184.1,265.5L187.0,262.6L189.9,260.8L191.7,258.9L194.7,257.4L197.1,256.6L199.1,254.5L197.9,253.5L199.4,251.9L199.8,250.3L199.7,250.1L199.6,248.0L199.7,246.4L200.4,245.4L200.7,246.7L200.3,248.5L200.8,248.5L202.7,246.2L202.5,245.7L203.3,245.7L205.4,243.9L206.3,242.0L206.5,241.5L208.0,241.5L210.6,240.5L211.5,239.7L213.4,239.2L214.4,239.2L215.7,238.4L215.7,237.6L214.9,237.1L215.1,235.6L215.7,235.1L217.3,233.5L219.6,232.7L222.2,232.0L224.3,230.9L224.6,230.7L224.7,229.9L223.7,228.4L224.9,224.8L224.4,224.0L222.8,224.5L222.4,224.0L220.1,225.8L218.8,227.9L217.6,228.9L216.6,229.4L215.7,230.2L211.8,230.2L208.5,230.2L204.5,232.5L203.2,233.8L199.3,233.8L198.2,234.0L198.4,234.5L198.2,235.6L195.0,236.9L192.5,237.4L189.7,238.7L188.5,237.9L191.0,235.3L192.2,233.8L192.9,229.4L191.3,228.1L191.8,227.6L190.8,226.8L189.9,226.6L189.7,226.1L189.7,225.3L187.4,223.5L184.3,221.8L182.1,222.5L181.5,222.5L179.5,221.8L177.6,222.3L176.1,221.2L174.2,221.0L172.9,220.7L172.4,220.5L172.8,219.0L172.0,219.0L171.5,220.0L163.5,220.0L155.5,220.0L147.5,220.0L139.5,220.0L131.5,220.0L123.5,220.0Z"/>
<path fill="#0868ac" d="M128.6,170.8L125.9,169.5L122.2,169.7L119.3,169.5L114.8,169.0L113.5,168.2L109.8,168.4L109.7,167.5L108.2,166.9L103.8,168.2L100.1,168.6L96.0,169.3L92.9,170.1L91.0,171.2L87.4,172.3L84.4,172.3L81.8,173.4L82.9,174.3L83.3,175.2L83.0,176.3L86.1,176.6L83.4,178.6L79.9,178.6L81.2,177.5L77.9,177.9L74.9,178.8L71.0,179.5L71.6,180.9L73.0,182.5L75.7,182.0L76.0,182.7L78.9,182.9L78.1,183.9L76.0,184.6L74.6,184.6L71.0,185.3L69.3,185.5L67.3,186.7L64.3,187.8L61.8,189.3L62.1,190.2L60.4,191.6L60.9,192.1L61.1,193.3L64.1,192.8L64.1,193.8L62.9,194.5L61.4,195.9L65.5,195.0L68.2,195.7L71.2,195.5L66.5,198.6L63.9,199.6L58.7,201.5L55.3,202.8L52.6,203.5L49.0,205.2L44.5,206.4L44.8,206.0L48.0,205.0L50.5,204.2L54.2,202.8L56.7,202.5L56.3,203.5L60.9,202.5L68.6,199.1L71.2,198.4L74.3,197.4L78.1,195.5L78.1,194.3L81.3,193.1L82.6,192.6L85.5,191.2L87.9,190.4L89.4,189.7L85.8,191.2L84.8,192.6L81.9,194.7L85.0,194.3L86.9,193.5L90.7,192.9L92.2,191.2L94.8,190.7L95.9,191.6L98.1,192.8L101.0,192.6L103.4,193.1L104.5,194.0L106.0,196.4L107.5,197.2L110.5,197.2L111.1,199.6L111.1,202.8L111.5,204.5L111.6,205.5L113.6,204.2L114.9,202.8L113.2,201.0L113.7,198.4L114.0,196.7L113.4,195.5L113.3,194.5L113.3,193.3L110.8,194.0L107.5,195.5L107.7,193.8L107.4,192.8L106.2,192.1L104.4,192.1L112.2,184.8L120.2,177.7ZM76.8,197.9L77.0,198.6L74.0,199.8L71.1,200.8L70.9,200.1L71.8,198.9L74.3,198.1L75.9,197.7ZM58.8,183.9L59.2,184.3L60.6,184.1L61.1,184.8L62.6,185.0L62.1,185.3L60.2,185.7L59.4,185.3L59.3,184.8L57.4,185.0L57.4,184.8ZM57.9,191.9L59.1,192.1L58.1,193.1L56.6,193.4L55.8,193.1L55.5,192.3ZM10.6,297.6L10.1,298.1L9.7,297.6L9.9,297.0L9.6,296.0L10.4,295.2L10.5,294.4L11.9,295.2L12.1,295.6L12.5,296.5L11.4,297.2ZM10.2,293.7L9.5,293.7L9.0,292.9L9.3,292.6L10.0,292.9L10.5,293.2ZM7.0,291.8L6.1,291.8L5.8,291.0L6.6,290.8L7.1,291.8ZM3.7,290.1L3.4,290.3L2.7,289.8L2.9,289.6L3.3,289.4L3.8,289.4Z"/>
<path fill="#43a2ca" d="M106.3,262.6L111.8,262.1L111.3,262.6L118.6,265.7L124.8,265.7L125.2,264.4L129.0,264.4L131.3,267.6L131.7,270.2L134.4,271.7L136.3,269.6L138.0,269.6L139.4,270.7L140.5,274.1L141.4,275.6L141.9,278.5L145.0,279.8L145.9,279.8L144.5,282.2L143.8,284.0L142.9,287.6L142.5,289.0L142.8,290.3L143.2,291.6L143.4,293.7L144.7,295.5L144.9,297.0L145.7,298.3L148.1,298.9L148.8,300.2L151.0,299.4L152.6,299.1L154.5,298.6L155.9,298.1L157.4,297.0L158.3,295.5L158.7,293.4L159.1,292.6L160.8,291.8L163.4,291.3L165.2,291.3L166.6,291.3L167.1,291.8L166.9,293.0L165.4,294.4L164.8,296.1L165.2,296.5L164.6,297.7L163.9,299.7L163.3,299.1L162.8,299.1L162.3,299.1L161.4,300.7L161.0,300.4L160.7,300.5L160.7,301.0L158.5,301.0L156.4,301.0L156.2,302.4L155.2,302.4L155.9,303.3L156.8,303.8L156.9,304.3L157.3,304.6L157.1,305.5L154.2,305.5L152.9,307.6L153.1,308.1L152.8,308.8L152.7,309.5L150.3,306.7L149.2,305.9L147.5,305.1L146.2,305.4L144.3,306.3L143.0,306.6L141.5,305.9L139.9,305.4L137.9,304.2L136.3,303.8L133.9,302.5L132.1,301.3L131.7,300.7L130.4,300.5L128.2,299.7L127.5,298.5L125.2,297.0L124.3,295.3L124.1,294.2L124.8,293.9L124.7,293.1L125.3,292.4L125.4,291.6L124.9,290.3L124.9,289.2L124.4,287.9L122.9,285.3L121.0,283.3L120.2,281.6L118.5,280.6L118.2,280.1L118.9,278.5L118.0,277.7L116.9,276.4L116.9,274.7L115.6,274.5L114.8,273.1L114.1,271.9L114.2,271.0L113.6,269.1L113.5,267.0L113.8,266.1L112.6,265.0L111.8,265.2L110.7,264.4L110.1,265.5L109.9,266.8L109.6,268.7L110.1,269.8L111.1,271.6L111.4,272.3L111.6,272.4L111.6,273.3L112.0,273.3L112.1,274.9L112.5,275.6L112.8,276.5L113.9,277.8L114.0,280.3L114.4,281.4L114.8,282.7L114.7,284.0L115.7,284.1L116.4,285.3L117.0,286.4L116.9,286.9L115.7,287.9L115.3,287.9L115.0,286.3L113.9,284.8L112.5,283.5L111.5,282.8L112.0,280.9L111.9,279.6L111.0,278.8L109.8,277.6L109.4,277.9L109.0,277.2L107.8,276.6L106.9,275.1L107.1,274.9L108.0,275.0L109.1,274.1L109.5,272.9L108.4,271.0L107.3,270.3L106.9,268.6L106.7,266.9L106.4,264.9L106.3,262.6Z"/>
<path fill="#7bccc4" d="M162.5,312.4L162.2,313.1L160.8,313.1L160.0,312.8L159.1,312.3L157.9,312.1L157.3,311.6L157.4,311.2L158.3,310.5L158.8,310.2L158.6,309.9L159.2,309.8L159.8,310.0L160.3,310.5L160.9,310.9L161.0,311.3L162.0,311.0L162.4,311.1L162.7,311.4Z"/>
<path fill="#7bccc4" d="M172.6,325.9L171.4,325.4L171.0,324.8L171.2,324.4L171.2,323.8L170.6,323.2L169.7,322.6L168.9,322.3L168.9,321.6L168.3,321.1L168.4,321.8L167.9,322.5L167.4,321.8L166.7,321.5L166.4,321.0L166.5,320.2L166.8,319.4L166.2,319.0L166.8,318.5L167.1,318.1L168.6,318.8L169.1,318.5L169.8,318.7L170.2,319.2L170.8,319.4L171.4,318.9L171.9,320.3L172.7,321.3L173.7,322.4L172.9,322.7L172.8,323.7L173.3,324.1L172.9,324.4L173.0,324.9L172.8,325.4Z"/>
<path fill="#43a2ca" d="M184.2,328.6L183.5,327.8L183.0,326.4L183.6,325.7L183.0,325.5L182.6,324.6L181.5,323.9L180.5,324.1L180.0,325.0L179.1,325.7L178.5,325.7L178.3,326.3L179.3,327.7L178.7,328.0L178.3,328.4L177.2,328.6L176.9,327.0L176.6,327.4L175.9,327.3L175.4,326.2L174.5,326.1L173.9,325.8L172.9,325.8L172.8,326.3L172.6,325.9L172.8,325.4L173.0,324.9L172.9,324.4L173.3,324.1L172.8,323.7L172.9,322.7L173.7,322.4L174.5,323.4L174.5,323.9L175.4,324.0L175.6,323.8L176.2,324.5L177.3,324.3L178.3,323.6L179.8,323.1L180.6,322.3L181.8,322.5L181.7,322.7L183.0,322.8L184.0,323.3L184.7,324.0L185.6,324.8L185.3,325.2L185.7,326.7L185.2,327.5L184.5,327.3Z"/>
<path fill="#a8ddb5" d="M187.1,299.2L188.6,299.4L189.8,300.0L190.1,300.7L188.5,300.8L187.8,301.2L186.5,300.8L185.3,299.8L185.7,299.3L186.6,299.1Z"/>
<path fill="#7bccc4" d="M200.8,296.0L201.1,295.5L202.9,295.5L204.2,296.2L204.8,296.1L205.1,297.1L206.3,297.0L206.2,297.8L207.2,297.9L208.2,298.8L207.2,299.9L206.2,299.3L205.2,299.4L204.4,299.3L204.0,299.8L203.1,300.0L202.8,299.3L202.0,299.7L200.9,301.5L200.4,301.1L200.3,300.3L200.4,299.6L199.9,298.8L200.6,298.4L200.8,297.4Z"/>
<path fill="#7bccc4" d="M189.5,347.8L188.5,347.2L187.4,346.3L186.7,346.7L184.8,346.4L184.2,345.2L183.8,345.3L181.5,343.8L181.2,343.0L182.0,342.8L182.0,341.5L182.5,340.5L183.7,340.4L184.7,338.7L185.6,337.4L184.8,336.7L185.2,335.2L184.8,332.8L185.3,332.1L185.0,329.9L184.2,328.6L184.5,327.3L185.2,327.5L185.7,326.7L185.3,325.2L185.6,324.8L186.7,324.9L188.5,323.0L189.5,322.8L189.6,321.9L190.1,319.7L191.5,318.5L193.0,318.4L193.2,317.9L195.0,318.1L196.8,316.8L197.8,316.2L199.0,314.9L199.8,315.1L200.3,315.8L199.8,316.7L198.3,317.1L197.7,318.4L196.7,319.2L196.0,320.1L195.6,322.0L194.9,323.5L196.1,323.7L196.3,324.9L196.8,325.5L196.9,326.5L196.6,327.5L196.7,328.0L197.2,328.2L197.7,329.2L200.7,328.9L202.0,329.2L203.6,331.5L204.5,331.2L206.2,331.4L207.5,331.0L208.3,331.5L207.8,332.9L207.3,333.8L207.1,335.7L207.5,337.4L208.1,338.2L208.2,338.7L207.0,340.0L207.8,340.6L208.4,341.5L209.1,344.1L208.6,344.5L208.2,342.9L207.6,342.1L206.8,343.0L202.3,342.9L202.3,344.6L203.7,344.8L203.6,345.8L203.1,345.5L201.8,346.0L201.8,347.9L202.8,348.8L203.2,350.3L203.2,351.5L202.3,358.6L201.1,357.2L200.4,357.2L201.8,354.5L200.1,353.3L198.7,353.5L197.8,353.1L196.6,353.7L194.9,353.4L193.5,350.7L192.4,350.0L191.6,348.8L190.1,347.6Z"/>
<path fill="#ccebc5" d="M178.3,356.3L179.4,354.3L178.9,353.2L178.1,354.4L176.7,353.3L177.1,352.5L176.7,350.2L177.5,349.8L177.9,348.1L178.8,346.5L178.6,345.4L179.9,344.8L181.5,343.8L183.8,345.3L184.2,345.2L184.8,346.4L186.7,346.7L187.4,346.3L188.5,347.2L189.5,347.8L189.8,349.8L189.1,351.5L186.6,354.2L183.9,355.2L182.6,357.5L182.2,359.3L180.9,360.3L179.9,359.0L179.0,358.7L178.0,359.0L177.9,358.0L178.6,357.4Z"/>
<path fill="#a8ddb5" d="M205.0,393.3L204.5,394.6L203.5,395.3L201.0,393.8L200.7,392.7L196.0,390.1L191.6,387.2L189.7,385.6L188.6,383.5L188.9,382.7L186.7,379.3L184.1,374.5L181.6,369.3L180.6,368.1L179.8,366.2L178.0,364.5L176.3,363.4L177.0,362.2L175.8,359.8L176.5,357.9L178.3,356.3L178.6,357.4L177.9,358.0L178.0,359.0L179.0,358.7L179.9,359.0L180.9,360.3L182.2,359.3L182.6,357.5L183.9,355.2L186.6,354.2L189.1,351.5L189.8,349.8L189.5,347.8L190.1,347.6L191.6,348.8L192.4,350.0L193.5,350.7L194.9,353.4L196.6,353.7L197.8,353.1L198.7,353.5L200.1,353.3L201.8,354.5L200.4,357.2L201.1,357.2L202.3,358.6L200.2,358.5L199.9,358.9L198.0,359.4L195.5,361.2L195.3,362.4L194.8,363.3L195.0,364.7L193.7,365.5L193.7,366.6L193.1,367.0L194.2,369.4L195.5,371.0L195.1,372.1L196.7,372.2L197.6,373.6L199.6,373.7L201.4,372.2L201.5,376.1L202.6,376.4L203.8,376.0L206.0,380.2L205.6,381.1L205.6,382.9L205.8,385.1L205.0,386.4L205.5,387.4L205.0,388.3L206.2,390.5Z"/>
<path fill="#7bccc4" d="M235.8,426.2L238.2,422.7L240.4,420.1L241.7,419.1L243.4,417.6L243.2,415.6L242.0,414.1L240.9,414.6L241.2,413.0L241.3,411.5L241.2,410.1L240.3,409.6L239.5,410.0L238.7,409.9L238.3,408.9L237.9,406.5L237.4,405.7L235.8,405.0L234.9,405.5L232.5,405.0L232.4,401.5L231.6,400.1L232.2,399.5L231.9,398.0L232.4,396.9L232.6,394.8L232.0,393.2L230.7,392.5L230.3,391.4L230.6,389.9L226.2,389.8L225.1,386.8L225.7,386.7L225.6,385.6L225.1,384.8L224.9,383.4L223.6,382.6L222.1,382.6L221.1,381.8L219.5,381.3L218.6,380.4L216.0,379.9L213.4,377.6L213.5,375.8L213.1,374.8L213.3,372.9L210.3,373.3L209.1,374.3L207.2,375.3L206.7,376.1L205.5,376.2L203.8,376.0L202.6,376.4L201.5,376.1L201.4,372.2L199.6,373.7L197.6,373.6L196.7,372.2L195.1,372.1L195.5,371.0L194.2,369.4L193.1,367.0L193.7,366.6L193.7,365.5L195.0,364.7L194.8,363.3L195.3,362.4L195.5,361.2L198.0,359.4L199.9,358.9L200.2,358.5L202.3,358.6L203.2,351.5L203.2,350.3L202.8,348.8L201.8,347.9L201.8,346.0L203.1,345.5L203.6,345.8L203.7,344.8L202.3,344.6L202.3,342.9L206.8,343.0L207.6,342.1L208.2,342.9L208.6,344.5L209.1,344.1L210.3,345.5L212.1,345.3L212.6,344.5L214.3,343.9L215.3,343.5L215.6,342.4L217.2,341.7L217.1,341.1L215.1,340.9L214.8,339.2L215.0,337.5L214.0,336.8L214.4,336.6L216.1,336.9L217.9,337.6L218.6,336.9L220.2,336.5L222.8,335.6L223.7,334.6L223.4,333.8L224.6,333.7L225.1,334.3L224.8,335.5L225.6,335.9L226.1,337.1L225.4,338.0L225.1,340.2L225.6,341.5L225.8,342.7L227.2,344.0L228.3,344.1L228.6,343.6L229.3,343.5L230.3,343.0L231.1,342.3L232.4,342.5L232.9,342.4L234.2,342.7L234.4,342.1L234.0,341.6L234.3,340.9L235.2,341.1L236.3,340.8L237.6,341.4L238.6,341.9L239.3,341.2L239.8,341.3L240.1,342.1L241.2,341.9L242.1,340.9L242.9,338.9L244.3,336.5L245.0,336.4L245.6,337.9L246.8,342.4L248.1,342.9L248.1,344.7L246.3,346.8L247.1,347.6L251.1,348.0L251.3,350.6L253.0,348.9L255.9,349.9L259.7,351.4L260.9,353.0L260.5,354.4L263.2,353.6L267.7,355.0L271.1,354.9L274.5,357.1L277.5,360.0L279.3,360.7L281.3,360.8L282.1,361.6L282.9,365.0L283.4,366.6L282.5,370.9L281.4,372.6L278.3,376.2L276.9,379.2L275.3,381.4L274.7,381.5L274.2,383.4L274.6,388.3L274.1,392.3L274.0,394.0L273.3,395.0L273.1,398.5L271.0,401.9L270.8,404.6L269.1,405.8L268.6,407.3L266.2,407.3L262.7,408.3L261.2,409.5L258.8,410.3L256.3,412.3L254.7,414.9L254.5,416.9L255.1,418.3L254.9,421.0L254.6,422.2L253.2,423.6L251.4,428.2L249.8,430.3L248.4,431.5L247.9,434.0L246.7,435.5L245.8,434.0L246.6,432.8L245.0,431.0L243.1,429.6L240.5,427.9L239.7,428.0L237.2,426.0Z"/>
<path fill="#a8ddb5" d="M221.8,405.5L222.4,402.3L222.4,400.9L223.2,398.6L227.1,397.9L229.2,397.9L231.5,399.2L231.6,400.1L232.4,401.5L232.5,405.0L234.9,405.5L235.8,405.0L237.4,405.7L237.9,406.5L238.3,408.9L238.7,409.9L239.5,410.0L240.3,409.6L241.2,410.1L241.3,411.5L241.2,413.0L240.9,414.6L240.8,416.9L239.0,418.9L237.3,419.3L234.8,418.9L232.4,418.2L234.1,414.2L233.7,413.0L231.2,412.0L228.3,410.1L226.4,409.7Z"/>
<path fill="#7bccc4" d="M235.8,426.2L237.2,426.0L239.7,428.0L240.5,427.9L243.1,429.6L245.0,431.0L246.6,432.8L245.8,434.0L246.7,435.5L246.0,437.2L243.8,438.6L242.1,438.1L241.0,438.4L238.8,437.2L237.3,437.3L235.7,435.9L235.6,434.2L235.9,433.6L235.4,431.0L235.6,428.3Z"/>
<path fill="#7bccc4" d="M235.8,426.2L235.6,428.3L235.4,431.0L235.9,433.6L235.6,434.2L235.7,435.9L235.8,437.2L239.0,439.5L239.1,441.3L240.6,442.4L240.8,443.7L239.4,447.0L236.6,448.4L232.4,448.9L230.0,448.7L230.8,450.2L230.9,452.2L231.6,453.5L230.6,454.4L228.6,454.8L226.3,453.8L225.6,454.5L226.7,457.1L228.3,457.8L229.2,457.0L230.2,458.3L228.6,459.1L227.4,460.8L227.9,463.3L227.8,464.7L225.8,464.7L224.7,466.0L224.7,468.0L227.3,469.8L229.5,470.4L229.5,472.6L227.6,474.1L227.4,477.0L226.0,478.0L225.6,479.2L227.3,481.8L229.2,483.3L228.3,483.1L226.3,482.7L221.5,482.4L220.0,481.0L219.3,479.1L218.0,479.2L216.9,478.3L215.6,475.6L216.8,474.5L216.8,472.9L216.1,471.6L216.3,469.4L215.9,466.1L215.2,464.5L215.9,464.1L215.3,463.1L214.2,462.6L214.5,461.5L213.2,460.5L211.8,457.5L212.4,457.0L211.1,453.9L210.8,451.2L210.7,448.9L211.7,448.0L210.4,445.4L209.7,443.0L211.0,441.4L210.4,439.2L211.0,436.6L210.5,434.2L209.8,433.7L207.8,429.3L208.7,426.6L208.0,424.0L208.3,421.7L209.4,419.2L210.7,417.6L209.9,416.6L210.3,415.7L209.6,411.4L211.9,410.1L212.3,407.4L212.0,406.7L213.7,404.4L216.7,405.0L218.2,406.9L218.8,404.8L221.4,404.9L221.8,405.5L226.4,409.7L228.3,410.1L231.2,412.0L233.7,413.0L234.1,414.2L232.4,418.2L234.8,418.9L237.3,419.3L239.0,418.9L240.8,416.9L240.9,414.6L242.0,414.1L243.2,415.6L243.4,417.6L241.7,419.1L240.4,420.1L238.2,422.7ZM228.6,484.0L229.8,485.1L231.6,487.0L234.7,488.5L237.7,489.1L237.4,490.3L235.6,490.4L234.2,489.6L233.0,489.5L231.0,489.5Z"/>
<path fill="#a8ddb5" d="M205.0,393.3L206.3,395.0L206.8,396.9L208.1,398.0L207.6,400.5L209.2,403.5L210.4,407.1L212.0,406.7L212.3,407.4L211.9,410.1L209.6,411.4L210.3,415.7L209.9,416.6L210.7,417.6L209.4,419.2L208.3,421.7L208.0,424.0L208.7,426.6L207.8,429.3L209.8,433.7L210.5,434.2L211.0,436.6L210.4,439.2L211.0,441.4L209.7,443.0L210.4,445.4L211.7,448.0L210.7,448.9L210.8,451.2L211.1,453.9L212.4,457.0L211.8,457.5L213.2,460.5L214.5,461.5L214.2,462.6L215.3,463.1L215.9,464.1L215.2,464.5L215.9,466.1L216.3,469.4L216.1,471.6L216.8,472.9L216.8,474.5L215.6,475.6L216.9,478.3L218.0,479.2L219.3,479.1L220.0,481.0L221.5,482.4L226.3,482.7L228.3,483.1L226.6,483.1L225.9,483.7L224.5,484.6L225.2,486.9L224.4,487.0L221.9,486.2L218.9,484.5L215.7,483.0L214.4,481.5L214.3,480.0L212.6,478.3L210.6,474.0L210.5,471.5L211.9,469.6L208.5,468.8L209.6,466.6L208.8,462.3L211.4,463.2L210.7,457.9L209.1,457.2L209.5,460.4L208.1,460.0L207.5,456.4L206.6,451.6L207.1,449.8L205.7,447.3L204.8,444.3L205.6,444.2L205.9,440.1L206.4,435.9L206.4,432.0L205.1,428.1L205.3,425.9L204.5,422.7L205.2,419.5L204.9,414.5L204.9,409.1L204.9,403.2L204.3,399.0L203.5,395.3L204.5,394.6ZM228.6,484.0L231.0,489.5L233.0,489.5L234.2,489.6L234.0,490.6L232.7,491.3L231.7,491.3L230.5,491.1L228.8,490.3L226.6,490.0L223.6,488.6L220.9,487.3L217.0,484.5L218.8,485.0L222.3,486.7L225.3,487.5L225.8,486.4L225.7,484.7L227.0,483.7Z"/>
<path fill="#0868ac" d="M409.2,167.3L414.7,168.9L412.8,169.5L415.0,170.9L412.4,171.8L411.1,172.0L411.4,170.4L409.0,169.6L406.6,170.3L406.2,171.9L404.8,172.9L402.9,172.3L400.7,172.5L398.6,171.3L397.8,171.9L396.7,171.9L396.7,173.4L393.5,173.1L393.2,174.3L391.6,174.3L390.7,175.9L389.3,178.4L387.0,181.6L387.7,182.4L387.2,183.3L385.4,183.3L384.5,185.4L384.9,188.6L386.2,189.8L385.8,192.5L384.4,194.2L383.7,195.6L382.4,194.1L378.9,196.9L376.4,197.4L373.8,196.2L373.0,193.6L372.2,188.2L373.8,186.7L378.4,184.7L381.7,182.3L384.6,179.1L388.3,174.7L390.9,173.1L395.0,170.3L398.5,169.3L401.2,169.5L403.4,167.7L406.4,167.8ZM399.9,153.7L396.8,154.5L394.1,154.0L394.9,153.5L393.9,152.9L396.8,152.6L397.6,153.3ZM389.5,150.3L394.6,151.6L391.1,152.4L390.6,153.7L389.4,154.1L389.0,155.7L387.2,155.8L383.8,154.6L385.0,153.9L382.7,153.4L379.6,151.8L378.2,150.4L382.1,149.7L383.0,150.3L385.0,150.3L385.4,149.7L387.5,149.6ZM399.4,149.0L402.4,149.6L400.6,150.6L396.5,150.8L392.2,150.5L391.8,150.0L389.7,150.0L387.9,149.2L392.2,148.7L394.4,149.1L395.7,148.6Z"/>
<path fill="#0868ac" d="M401.7,179.5L400.3,181.0L400.8,182.5L398.3,184.3L395.2,186.3L394.3,189.6L395.8,191.3L397.8,192.6L396.4,195.3L394.5,195.9L394.3,200.0L393.5,202.3L391.1,202.0L390.2,204.0L388.0,204.1L387.2,201.8L385.4,199.0L383.7,195.6L384.4,194.2L385.8,192.5L386.2,189.8L384.9,188.6L384.5,185.4L385.4,183.3L387.2,183.3L387.7,182.4L387.0,181.6L389.3,178.4L390.7,175.9L391.6,174.3L393.2,174.3L393.5,173.1L396.7,173.4L396.7,171.9L397.8,171.9L400.2,172.9L403.1,174.5L403.9,177.9L404.6,178.8Z"/>
<path fill="#43a2ca" d="M382.3,205.0L381.1,205.4L379.6,205.1L378.8,203.7L378.6,201.2L378.9,200.5L379.3,199.8L381.0,199.7L381.6,199.0L383.1,198.3L383.1,199.5L382.6,200.3L382.9,201.0L383.9,201.4L383.5,202.3L383.0,202.0L381.7,203.8ZM386.8,202.2L387.5,203.5L386.5,205.5L384.4,204.1L384.0,203.0Z"/>
<path fill="#0868ac" d="M357.6,196.1L355.5,198.7L357.4,198.4L359.5,198.4L359.0,200.4L357.2,202.6L359.2,202.7L361.1,205.9L362.4,206.3L363.6,209.1L364.1,210.1L366.5,210.6L366.3,212.2L365.3,212.9L366.1,214.2L364.3,215.5L361.6,215.5L358.2,216.2L357.3,215.7L356.0,216.9L354.1,216.6L352.7,217.5L351.7,217.0L354.7,214.4L356.4,213.8L353.4,213.4L352.8,212.4L354.9,211.7L353.9,210.3L354.3,208.7L357.2,208.9L357.5,207.5L356.2,205.9L353.9,205.5L353.4,204.8L354.2,203.7L353.5,203.0L352.5,204.2L352.5,201.8L351.5,200.6L352.3,198.1L353.9,196.1L355.3,196.3ZM352.3,206.1L351.2,207.8L349.7,207.3L348.5,207.3L349.0,206.0L348.6,204.6L350.3,204.5Z"/>
<path fill="#0868ac" d="M351.2,207.8L351.4,209.6L349.8,211.8L346.3,213.2L343.5,212.9L345.2,210.3L344.4,207.7L347.1,205.8L348.6,204.6L349.0,206.0L348.5,207.3L349.7,207.3Z"/>
<path fill="#0868ac" d="M353.9,220.8L356.5,220.2L359.9,220.9L359.3,218.0L361.2,219.1L365.9,217.1L366.5,215.1L368.2,214.6L368.5,215.4L369.4,215.5L370.4,216.5L371.8,217.7L372.8,217.5L374.6,218.6L375.0,218.9L375.6,218.8L376.6,219.5L379.5,219.9L378.6,221.7L378.4,223.5L377.8,223.9L376.9,223.7L377.0,224.3L375.5,225.7L375.5,226.9L376.5,226.5L377.2,227.6L377.2,228.4L377.8,229.3L377.1,230.1L377.7,232.1L378.9,232.4L378.7,233.5L376.8,235.0L372.7,234.3L369.7,235.1L369.5,236.7L367.0,237.0L364.7,235.8L363.9,236.4L360.1,235.2L359.2,234.2L360.3,232.7L360.8,227.6L358.7,224.9L357.2,223.6L354.1,222.6ZM381.5,236.3L382.8,235.3L383.3,237.5L382.7,239.5L381.7,239.0L381.1,237.2Z"/>
<path fill="#43a2ca" d="M344.2,238.2L344.4,236.4L343.6,235.2L346.6,233.4L349.1,233.9L351.9,233.9L354.1,234.3L355.9,234.1L359.2,234.2L360.1,235.2L363.9,236.4L364.7,235.8L367.0,237.0L369.5,236.7L369.6,238.2L367.6,239.9L364.9,240.5L364.7,241.3L363.4,242.8L362.6,244.9L363.4,246.3L362.2,247.5L361.7,249.2L360.1,249.7L358.6,251.7L353.8,251.7L352.4,252.6L351.6,253.6L350.5,253.4L349.7,252.5L349.1,251.0L347.2,250.6L347.0,249.7L347.8,248.8L348.1,248.1L347.4,247.3L348.0,245.6L347.2,244.0L348.2,243.8L348.3,242.6L348.7,242.2L348.7,240.2L349.7,239.5L349.2,238.2L348.0,238.1L347.6,238.4L346.3,238.4L345.9,237.2L345.0,237.6Z"/>
<path fill="#43a2ca" d="M344.2,238.2L345.0,237.6L345.9,237.2L346.3,238.4L347.6,238.4L348.0,238.1L349.2,238.2L349.7,239.5L348.7,240.2L348.7,242.2L348.3,242.6L348.2,243.8L347.2,244.0L348.0,245.6L347.4,247.3L348.1,248.1L347.8,248.8L347.0,249.7L347.2,250.6L346.3,251.3L345.1,250.9L344.0,251.2L344.4,249.2L344.3,247.6L343.3,247.3L342.8,246.3L343.1,244.7L344.0,243.7L344.1,242.7L344.6,241.1L344.6,240.0L344.3,239.1Z"/>
<path fill="#0868ac" d="M369.8,214.0L371.2,214.2L373.0,213.7L374.3,214.8L375.5,215.4L375.3,217.1L374.8,217.2L374.6,218.6L372.8,217.5L371.8,217.7L370.4,216.5L369.4,215.5L368.5,215.4L368.2,214.6Z"/>
<path fill="#0868ac" d="M382.3,205.0L382.4,206.0L384.4,206.5L384.4,207.4L386.4,206.9L387.4,206.3L389.7,207.2L390.7,208.0L391.2,209.3L390.7,210.0L391.5,210.9L392.1,212.2L392.1,213.0L393.0,214.7L392.1,214.9L391.6,214.6L391.1,215.1L389.7,215.6L389.1,216.2L387.6,216.8L388.0,217.5L388.3,218.6L389.4,219.2L390.6,220.3L390.0,221.4L389.3,221.8L389.7,223.4L389.5,223.9L388.8,223.4L387.9,223.3L386.4,223.7L384.6,223.6L384.4,224.3L383.3,223.6L382.7,223.7L380.5,222.9L380.1,223.5L378.4,223.5L378.6,221.7L379.5,219.9L376.6,219.5L375.6,218.8L375.7,217.7L375.3,217.1L375.5,215.4L375.0,212.8L376.2,212.8L376.7,211.8L377.1,209.6L376.7,208.7L377.0,208.2L378.6,208.1L379.0,208.6L380.3,207.4L379.8,206.4L379.6,205.1L381.1,205.4Z"/>
<path fill="#0868ac" d="M382.7,223.7L382.8,224.2L382.5,224.8L383.5,225.3L384.5,225.3L384.4,226.4L383.5,226.8L382.0,226.5L381.6,227.5L380.6,227.6L380.3,227.2L379.1,228.1L378.1,228.2L377.2,227.6L376.5,226.5L375.5,226.9L375.5,225.7L377.0,224.3L376.9,223.7L377.8,223.9L378.4,223.5L380.1,223.5L380.5,222.9Z"/>
<path fill="#0868ac" d="M397.5,221.0L396.5,220.5L395.5,220.7L393.9,219.9L393.2,220.1L392.2,221.1L390.6,220.3L389.4,219.2L388.3,218.6L388.0,217.5L387.6,216.8L389.1,216.2L389.7,215.6L391.1,215.1L391.6,214.6L392.1,214.9L393.0,214.7L394.0,215.5L395.5,215.7L395.5,216.4L396.6,216.9L396.8,216.3L398.2,216.5L398.5,217.3L400.0,217.5L401.0,218.7L400.4,218.7L400.2,219.2L399.7,219.3L399.6,219.9L399.3,220.0L399.3,220.2L398.6,220.5L397.7,220.4Z"/>
<path fill="#43a2ca" d="M393.0,214.7L392.1,213.0L392.1,212.2L391.5,210.9L390.7,210.0L391.2,209.3L390.7,208.0L391.9,207.3L394.8,206.2L397.2,205.3L399.1,205.8L399.4,206.4L401.2,206.4L403.6,206.7L407.2,206.6L408.2,206.9L408.8,207.7L409.1,208.8L409.7,209.7L409.9,210.7L408.8,211.2L409.5,212.4L409.7,213.5L411.0,215.7L410.9,216.4L410.0,216.7L408.4,218.8L409.1,219.9L408.6,219.7L406.6,218.8L405.2,219.1L404.2,218.9L403.1,219.4L402.0,218.5L401.2,218.9L401.0,218.7L400.0,217.5L398.5,217.3L398.2,216.5L396.8,216.3L396.6,216.9L395.5,216.4L395.5,215.7L394.0,215.5Z"/>
<path fill="#0868ac" d="M401.0,218.7L401.2,218.9L402.0,218.5L403.1,219.4L404.2,218.9L405.2,219.1L406.6,218.8L408.6,219.7L408.1,220.4L407.9,221.4L407.4,221.7L405.2,220.9L404.6,221.1L404.1,221.7L403.2,222.0L403.0,221.8L402.0,222.2L401.3,222.3L401.1,222.8L399.5,223.1L398.7,222.8L397.6,222.2L397.3,221.3L397.5,221.0L397.7,220.4L398.6,220.5L399.3,220.2L399.3,220.0L399.6,219.9L399.7,219.3L400.2,219.2L400.4,218.7Z"/>
<path fill="#0868ac" d="M396.3,225.4L396.8,223.8L396.4,223.3L397.5,223.3L397.6,222.2L398.7,222.8L399.5,223.1L401.1,222.8L401.3,222.3L402.0,222.2L403.0,221.8L403.2,222.0L404.1,221.7L404.6,221.1L405.2,220.9L407.4,221.7L407.9,221.4L409.1,222.1L409.3,222.8L408.1,223.4L407.3,225.1L406.3,226.8L404.7,227.3L403.4,227.2L401.9,227.8L401.2,228.2L399.4,227.7L397.8,226.6L397.1,226.3L396.6,225.5Z"/>
<path fill="#0868ac" d="M388.5,225.6L391.5,226.3L391.3,227.6L391.9,228.7L390.2,228.3L388.6,229.2L388.8,230.5L388.6,231.2L389.3,232.5L391.4,233.8L392.6,235.9L395.0,238.0L396.7,238.0L397.2,238.6L396.7,239.1L398.6,240.0L400.2,240.8L402.2,242.1L402.4,242.6L402.1,243.6L400.8,242.3L399.0,241.9L398.2,243.6L399.8,244.6L399.6,245.9L398.7,246.1L397.7,248.3L396.8,248.5L396.8,247.7L397.2,246.3L397.6,245.8L396.7,244.3L395.9,242.9L395.0,242.6L394.3,241.5L392.9,241.0L392.0,240.0L390.4,239.8L388.7,238.7L386.7,237.0L385.2,235.5L384.4,233.0L383.4,232.6L381.6,231.8L380.7,232.2L379.5,233.3L378.7,233.5L378.9,232.4L377.7,232.1L377.1,230.1L377.8,229.3L377.2,228.4L377.2,227.6L378.1,228.2L379.1,228.1L380.3,227.2L380.6,227.6L381.6,227.5L382.0,226.5L383.5,226.8L384.4,226.4L384.5,225.3L385.8,225.7L386.0,225.2L388.0,224.8ZM396.5,247.7L395.8,249.7L396.2,250.5L395.8,251.9L394.1,250.9L393.0,250.6L389.9,249.3L390.1,247.9L392.7,248.2L394.8,247.9ZM382.6,239.9L384.0,241.8L383.8,245.2L382.8,245.0L382.0,245.9L381.2,245.2L381.0,242.1L380.4,240.6L381.6,240.7Z"/>
<path fill="#43a2ca" d="M401.9,227.8L402.5,228.8L403.2,229.6L402.5,230.5L401.5,230.0L400.1,230.0L398.3,229.6L397.3,229.6L396.9,230.2L396.1,229.6L395.8,230.6L396.9,231.8L397.4,232.6L398.4,233.6L399.3,234.2L400.1,235.2L402.1,236.2L401.9,236.7L399.8,235.7L398.5,234.8L396.6,234.0L394.7,232.1L395.1,231.9L394.1,230.8L394.0,230.0L392.6,229.6L392.0,230.7L391.4,229.8L391.4,228.9L391.5,228.9L392.9,229.0L393.2,228.6L394.0,229.0L394.8,229.0L394.7,228.3L395.4,228.0L395.5,227.0L397.1,226.3L397.8,226.6L399.4,227.7L401.2,228.2Z"/>
<path fill="#43a2ca" d="M402.5,230.5L403.2,230.5L402.8,231.7L403.9,232.6L403.7,233.9L403.2,234.0L402.9,234.2L402.3,234.8L402.1,236.2L400.1,235.2L399.3,234.2L398.4,233.6L397.4,232.6L396.9,231.8L395.8,230.6L396.1,229.6L396.9,230.2L397.3,229.6L398.3,229.6L400.1,230.0L401.5,230.0Z"/>
<path fill="#43a2ca" d="M406.2,229.1L407.5,229.7L407.8,230.8L409.1,231.5L409.7,230.9L410.2,231.3L409.8,231.7L410.2,232.2L409.8,232.7L410.1,233.7L411.2,234.8L410.5,235.6L410.2,236.4L410.5,236.7L410.2,237.1L409.2,237.1L408.5,237.3L408.0,237.4L406.8,237.8L406.5,238.3L406.3,237.3L405.7,237.1L405.2,236.4L405.6,235.8L405.7,235.6L404.9,235.0L404.2,234.8L403.8,234.4L403.2,234.0L403.7,233.9L403.9,232.6L402.8,231.7L403.2,230.5L402.5,230.5L403.2,229.6L402.5,228.8L401.9,227.8L403.4,227.2L404.7,227.3L405.9,228.3Z"/>
<path fill="#a8ddb5" d="M406.5,238.3L406.3,239.1L406.7,240.3L407.7,240.9L407.7,241.6L407.0,242.0L407.0,242.8L406.1,244.1L405.7,243.9L405.6,243.3L404.4,242.4L404.1,241.2L404.1,239.4L404.3,238.6L403.9,238.2L403.7,237.4L404.5,236.1L404.7,236.6L405.2,236.4L405.7,237.1L406.3,237.3Z"/>
<path fill="#7bccc4" d="M406.5,238.3L406.8,237.8L408.0,237.4L408.5,237.3L409.2,237.1L410.2,237.1L411.3,237.9L411.6,239.6L411.2,239.7L410.9,240.1L409.8,240.1L409.0,240.7L407.7,240.9L406.7,240.3L406.3,239.1Z"/>
<path fill="#7bccc4" d="M411.6,239.6L413.2,239.7L414.8,239.0L416.4,239.9L418.3,239.6L418.1,238.3L419.2,239.0L418.8,240.6L418.3,241.0L417.0,240.9L415.9,240.6L413.4,241.3L415.0,242.8L414.0,243.2L412.8,243.2L411.5,241.8L411.2,242.4L411.8,244.0L413.0,245.2L412.2,245.7L413.5,246.9L414.7,247.7L414.8,249.2L412.8,248.5L413.5,249.8L412.2,250.1L413.2,252.4L411.8,252.4L409.9,251.3L409.0,249.2L408.4,247.5L407.5,246.3L406.3,244.8L406.1,244.1L407.0,242.8L407.0,242.0L407.7,241.6L407.7,240.9L409.0,240.7L409.8,240.1L410.9,240.1L411.2,239.7ZM420.3,255.3L420.0,256.1L416.9,256.3L416.9,255.9L414.2,255.3L414.5,254.2L415.8,255.1L417.5,255.0L419.1,255.2L419.1,255.6Z"/>
<path fill="#43a2ca" d="M410.2,232.2L410.9,233.2L411.7,233.0L413.4,233.4L416.4,233.5L417.4,232.9L419.7,232.3L421.4,233.2L422.6,233.5L421.7,234.6L421.2,236.4L422.0,237.9L420.2,237.5L418.1,238.3L418.3,239.6L416.4,239.9L414.8,239.0L413.2,239.7L411.6,239.6L411.3,237.9L410.2,237.1L410.5,236.7L410.2,236.4L410.5,235.6L411.2,234.8L410.1,233.7L409.8,232.7Z"/>
<path fill="#a8ddb5" d="M417.1,222.0L417.5,221.6L418.8,221.3L420.4,222.1L421.3,222.2L422.3,222.9L422.3,223.8L423.1,224.2L423.5,225.2L424.4,225.9L424.3,226.3L424.7,226.5L424.2,226.7L423.0,226.6L422.7,226.3L422.3,226.5L422.5,226.9L422.1,227.8L421.8,228.6L421.3,228.9L420.8,227.8L420.9,226.7L420.7,225.5L419.3,224.0L418.5,222.9L417.7,222.2Z"/>
<path fill="#43a2ca" d="M408.8,207.7L410.7,207.7L412.6,206.7L412.9,205.3L414.3,204.5L413.9,203.4L415.0,203.0L416.9,202.1L419.0,202.7L419.4,203.3L420.4,203.0L422.3,203.6L422.8,204.8L422.5,205.4L424.0,207.0L424.9,207.5L424.9,208.0L426.3,208.4L427.0,209.1L426.3,209.6L424.7,209.5L424.4,209.7L425.0,210.6L425.8,212.2L424.2,212.3L423.6,212.9L423.8,214.1L422.9,213.9L421.1,214.0L420.5,213.4L419.9,213.8L419.1,213.5L417.5,213.4L415.2,212.8L413.2,212.6L411.6,212.7L410.7,213.4L409.7,213.5L409.5,212.4L408.8,211.2L409.9,210.7L409.7,209.7L409.1,208.8Z"/>
<path fill="#43a2ca" d="M407.2,206.6L406.9,206.0L407.1,205.3L406.1,204.9L404.1,204.5L403.4,202.4L405.4,201.7L408.7,201.8L410.5,201.6L410.8,202.1L411.9,202.3L413.9,203.4L414.3,204.5L412.9,205.3L412.6,206.7L410.7,207.7L408.8,207.7L408.2,206.9Z"/>
<path fill="#43a2ca" d="M403.4,202.4L403.2,200.6L403.9,199.1L405.5,198.2L407.3,200.0L408.8,200.0L408.9,198.1L410.4,197.7L411.3,198.0L413.0,198.9L414.6,198.9L415.6,199.5L416.0,200.7L416.9,202.1L415.0,203.0L413.9,203.4L411.9,202.3L410.8,202.1L410.5,201.6L408.7,201.8L405.4,201.7Z"/>
<path fill="#43a2ca" d="M408.9,198.1L408.8,196.7L408.2,197.0L406.9,196.2L406.5,194.8L408.7,194.1L411.0,193.8L413.1,194.1L415.0,194.1L415.3,194.5L414.3,195.9L415.3,198.1L414.6,198.9L413.0,198.9L411.3,198.0L410.4,197.7Z"/>
<path fill="#7bccc4" d="M434.3,255.7L434.4,255.7L434.7,255.1L436.2,255.1L438.1,254.3L436.8,255.4L437.0,255.9L437.1,256.1L435.0,257.2L433.9,256.9L433.3,255.8Z"/>
<path fill="#7bccc4" d="M441.1,239.6L444.3,240.6L446.6,240.2L448.5,240.5L450.7,239.1L453.0,239.0L455.2,240.3L455.8,241.2L455.8,242.4L457.5,243.1L458.5,243.8L457.2,244.6L458.3,247.5L458.1,248.3L459.6,250.4L458.6,250.9L457.8,250.2L455.2,249.9L454.3,250.3L452.0,250.7L450.8,250.6L448.4,251.6L446.7,251.6L445.5,251.1L443.2,251.9L442.4,251.3L442.5,252.8L442.0,253.4L441.5,253.9L440.5,252.8L441.2,251.8L439.9,252.0L438.0,251.4L436.8,252.9L433.5,253.2L431.6,251.8L429.3,251.7L428.9,252.8L427.4,253.1L425.2,251.7L422.8,251.8L421.3,249.2L419.6,247.7L420.4,245.7L418.9,244.5L421.0,242.0L424.3,241.9L424.9,239.9L429.0,240.3L431.3,238.6L433.6,237.8L437.1,237.8ZM420.8,241.3L419.1,242.7L418.3,241.5L418.3,241.0L418.8,240.6L419.2,239.0L418.1,238.3L420.2,237.5L422.0,237.9L422.4,238.9L424.4,239.7L424.1,240.4L421.6,240.5Z"/>
<path fill="#a8ddb5" d="M450.7,239.1L450.9,238.0L450.0,236.2L448.6,235.3L447.4,235.0L446.5,234.2L446.7,233.9L448.5,234.3L451.7,234.8L454.8,236.0L455.2,236.5L456.4,236.1L458.5,236.6L459.4,237.7L460.8,238.3L460.3,238.6L461.7,240.0L461.4,240.3L460.3,240.2L458.5,239.4L458.1,239.8L455.2,240.3L453.0,239.0Z"/>
<path fill="#43a2ca" d="M415.0,170.9L416.4,170.1L419.6,171.4L424.3,171.9L431.6,174.5L433.3,175.4L433.8,177.0L432.3,178.1L429.7,178.8L421.4,177.0L420.3,177.5L423.6,179.0L424.1,180.2L424.7,182.5L427.2,183.2L428.8,183.9L428.6,182.7L427.2,181.6L428.3,180.9L432.9,182.3L434.1,181.6L432.5,180.0L435.7,177.7L437.4,177.9L439.2,178.6L439.6,177.0L437.8,175.7L438.1,174.3L436.4,173.0L441.4,173.8L442.8,175.0L440.8,175.2L441.3,176.6L442.8,177.2L445.4,176.8L445.2,175.4L448.3,174.3L453.3,172.3L454.7,172.5L453.7,173.9L455.8,174.1L456.7,173.4L459.8,173.2L461.8,172.3L464.4,173.7L465.7,172.3L463.2,171.0L463.7,170.2L469.0,171.0L471.7,171.7L479.2,174.1L479.7,173.0L477.4,171.9L476.8,171.2L474.7,171.0L474.8,170.1L472.8,168.4L472.4,167.7L474.1,165.8L473.9,163.9L474.7,163.5L479.3,163.9L480.6,165.2L480.1,166.9L481.7,167.5L483.2,169.0L484.9,172.1L487.6,173.4L487.7,175.0L486.3,178.1L488.4,178.4L488.6,177.7L490.1,177.0L489.9,175.9L490.8,174.8L489.0,173.7L488.7,172.1L486.7,171.9L485.7,170.8L485.5,168.6L482.2,166.9L484.1,165.4L482.7,163.9L483.3,163.7L485.1,165.0L486.0,167.1L487.9,167.3L486.0,165.8L488.1,165.0L491.5,165.0L495.3,166.1L492.5,164.3L490.6,162.3L492.9,161.7L496.9,161.8L500.0,161.6L497.6,160.4L498.3,159.2L500.0,159.2L502.1,158.2L505.6,157.7L505.7,157.3L509.6,157.1L511.2,157.5L513.4,156.5L516.3,156.5L515.4,155.6L515.9,154.8L518.5,154.0L521.8,154.6L520.5,155.2L524.3,155.4L525.8,156.3L526.8,156.0L531.2,156.0L535.8,156.9L538.0,157.6L539.1,158.8L538.2,159.4L535.4,160.4L534.9,161.0L537.3,161.4L540.1,161.8L541.1,161.5L543.6,162.9L543.6,162.3L545.8,161.9L551.2,162.3L552.8,163.3L559.8,163.6L558.1,162.0L561.7,162.3L564.2,162.3L568.4,163.5L570.7,164.8L570.9,165.6L574.9,167.3L578.6,168.2L577.5,166.0L581.2,166.9L583.3,166.4L587.2,167.0L587.7,166.5L590.7,166.7L586.9,164.8L587.8,163.8L593.2,164.3L598.7,164.7L604.2,165.2L607.4,166.5L614.1,168.2L620.1,167.7L623.7,168.0L626.5,168.9L628.6,170.6L631.6,171.2L633.3,170.8L635.9,170.6L639.6,171.0L642.4,170.8L648.4,172.8L649.4,172.1L645.9,170.7L645.2,169.7L651.4,170.3L654.5,170.1L661.1,171.2L665.0,172.2L678.4,181.2L677.7,182.3L675.1,182.0L678.3,183.2L682.2,185.2L683.9,185.8L685.3,186.7L685.8,187.4L681.9,186.9L679.0,188.6L677.9,188.9L677.2,190.6L676.5,192.1L677.0,193.1L672.3,191.4L669.9,193.3L667.8,192.3L667.6,193.5L664.4,193.1L665.9,194.7L666.4,197.2L667.6,198.1L670.3,198.6L673.8,202.0L672.3,202.3L673.6,204.2L675.6,205.3L673.7,206.7L675.7,209.4L673.3,210.0L675.3,212.7L674.6,214.9L672.2,213.2L667.8,209.4L661.3,204.0L658.6,200.6L658.8,199.1L657.7,198.1L659.9,197.4L659.9,194.5L660.4,192.1L661.4,190.2L658.6,186.8L656.6,186.9L658.1,189.0L656.5,191.6L651.4,188.6L647.8,189.5L647.6,193.3L650.9,195.0L647.4,195.5L644.8,195.7L643.0,194.0L639.7,193.5L638.6,194.7L632.8,194.5L627.4,195.2L625.8,199.8L623.9,205.7L627.2,206.0L629.5,207.5L631.9,208.0L632.0,206.8L634.2,206.9L639.5,209.7L641.5,211.9L642.0,214.4L644.2,217.3L646.3,221.4L645.9,225.1L646.4,226.8L644.5,234.3L642.5,235.8L641.3,235.8L639.2,234.5L637.5,236.5L637.7,237.3L637.2,236.9L636.4,235.6L637.4,235.5L635.8,232.5L633.9,230.3L635.1,229.4L637.9,229.8L637.6,227.3L636.5,224.5L636.6,223.6L636.1,221.3L633.3,222.1L632.2,223.0L629.1,223.0L626.7,220.7L623.1,218.9L619.0,218.1L616.5,215.6L614.7,214.0L613.1,213.0L610.0,210.4L607.5,209.5L604.0,208.8L601.5,208.9L599.4,209.3L598.7,210.5L600.2,211.1L601.3,212.5L600.8,213.3L600.8,216.0L601.6,217.1L599.8,218.7L596.8,217.7L594.5,217.9L592.9,217.1L591.6,216.8L589.8,218.6L587.4,219.0L585.9,219.6L583.1,219.2L581.3,219.3L579.3,218.0L576.6,216.8L574.4,216.4L572.1,216.7L570.5,217.2L567.0,216.2L565.5,214.3L562.8,213.6L560.8,213.3L558.0,212.3L557.5,214.9L559.1,216.4L558.1,218.1L554.9,217.5L552.9,217.4L550.9,216.2L548.8,216.2L546.6,215.4L544.2,216.6L541.5,218.8L539.6,219.2L538.9,219.4L537.1,217.9L534.7,218.2L533.3,217.1L531.7,216.7L530.0,215.2L528.7,214.8L526.2,215.4L522.8,213.9L522.3,215.3L514.9,208.9L511.5,207.0L511.8,206.2L508.1,208.6L506.3,208.7L505.8,207.3L502.9,206.5L501.2,207.1L499.4,204.5L495.7,204.0L494.4,205.0L490.0,206.0L489.3,206.6L482.4,207.4L481.9,208.3L483.9,210.0L482.3,210.6L482.9,211.3L481.5,212.5L485.3,214.2L485.2,215.4L482.4,215.3L482.0,216.1L479.1,214.8L475.9,214.8L474.2,215.9L471.5,214.9L466.6,213.1L463.5,213.2L460.2,215.9L460.5,217.8L458.0,216.3L457.1,219.1L457.9,219.6L457.2,221.5L459.3,223.2L460.8,223.2L462.5,224.9L462.6,226.2L463.8,226.6L463.2,228.1L461.3,228.5L459.8,231.2L462.3,233.6L462.5,235.3L465.4,238.4L464.4,239.4L464.2,240.1L463.2,239.9L461.4,238.3L460.8,238.3L459.4,237.7L458.5,236.6L456.4,236.1L455.2,236.5L454.8,236.0L451.7,234.8L448.5,234.3L446.7,233.9L446.5,234.2L443.4,232.0L440.9,231.0L438.9,229.6L440.3,229.2L441.6,227.0L440.2,226.0L443.1,225.0L442.9,224.4L441.1,224.8L441.0,223.7L441.9,222.9L443.8,222.8L444.0,221.9L443.2,220.5L443.8,219.2L443.6,218.5L440.4,217.6L439.3,217.6L437.8,216.5L436.4,216.9L433.6,216.0L433.6,215.5L432.6,214.4L431.0,214.3L430.7,213.5L431.1,213.0L429.6,211.6L427.6,211.8L426.9,211.7L426.6,212.3L425.8,212.2L425.0,210.6L424.4,209.7L424.7,209.5L426.3,209.6L427.0,209.1L426.3,208.4L424.9,208.0L424.9,207.5L424.0,207.0L422.5,205.4L422.8,204.8L422.3,203.6L420.4,203.0L419.4,203.3L419.0,202.7L416.9,202.1L416.0,200.7L415.6,199.5L414.6,198.9L415.3,198.1L414.3,195.9L415.3,194.5L415.0,194.1L416.8,192.8L414.6,191.6L417.9,188.6L419.2,187.2L419.6,186.0L416.6,184.5L416.9,182.9L415.0,181.2L415.7,179.3L413.0,176.7L414.2,175.0L411.2,173.5L411.1,172.0L412.4,171.8ZM401.2,206.4L401.5,205.3L404.1,204.5L406.1,204.9L407.1,205.3L406.9,206.0L407.2,206.6L403.6,206.7ZM446.4,165.6L447.8,165.1L447.1,164.0L449.3,162.2L447.7,161.9L450.4,160.1L449.4,159.2L452.2,158.1L456.3,156.8L461.1,156.5L463.1,155.7L465.9,155.5L467.6,156.3L467.0,156.9L462.4,157.9L458.4,158.8L454.8,160.8L453.7,162.8L452.3,164.8L453.6,166.6L457.7,168.4L456.8,168.5L451.3,168.3L450.4,167.3L447.2,166.7ZM509.0,151.8L506.1,152.0L501.4,151.5L498.1,150.8L495.4,149.5L493.0,149.1L495.2,148.0L497.7,147.6L501.6,148.4L507.2,150.1ZM512.3,151.0L517.4,152.1L518.0,152.8L510.6,153.6L510.1,151.1L511.0,150.9ZM574.9,157.1L579.1,157.2L586.5,158.2L587.7,159.7L581.9,159.7L580.0,160.2L574.9,158.8L573.5,157.4ZM588.6,158.4L592.0,158.7L596.8,159.2L596.3,160.0L593.5,159.8L589.4,159.0ZM587.2,161.7L590.6,162.5L591.7,163.1L589.3,163.1L585.7,162.8L585.2,162.7L585.5,161.9ZM655.9,166.6L655.3,167.5L656.7,168.2L658.4,168.1ZM70.5,166.6L73.6,167.2L72.9,167.5L70.4,168.0L68.0,168.1ZM426.8,148.7L429.4,148.4L431.5,148.4L432.1,148.8L432.6,148.4L433.8,148.1L436.1,148.5L435.8,148.8L434.0,149.0L432.8,149.1L432.8,149.4L431.3,149.7L429.5,149.3L430.0,148.8ZM439.2,148.9L441.7,148.5L445.1,148.3L448.5,148.2L450.9,148.5L448.5,149.0L444.6,149.4L441.7,149.4ZM649.0,215.6L654.6,220.0L651.0,219.2L652.5,222.9L656.4,225.5L657.6,227.3L655.0,225.7L655.0,227.7L653.1,225.5L651.6,223.1L649.3,220.3L648.3,218.4L645.7,215.1L642.4,212.6L639.7,209.2L640.5,208.0L638.6,206.9L639.2,206.5L641.2,208.2L644.0,210.6L646.1,213.0ZM61.4,172.2L62.9,173.9L64.1,176.1L61.9,177.5L62.3,178.0L64.2,176.4L68.4,176.8L68.8,178.9L65.7,179.9L62.5,180.1L59.3,182.3L58.0,182.8L56.4,182.8L56.2,182.0L54.8,181.3L55.8,180.3L54.6,179.9L52.2,180.2L52.4,179.4L54.0,178.6L51.1,179.1L50.3,180.2L48.0,181.2Z"/>
<path fill="#a8ddb5" d="M352.0,254.1L353.2,255.2L355.3,255.0L357.6,255.6L358.5,255.6L359.3,257.3L359.4,258.9L360.2,261.7L360.7,262.2L360.3,263.2L357.4,263.7L356.4,264.6L355.2,264.8L355.1,266.8L352.5,267.8L351.6,269.1L349.8,269.8L347.6,270.2L343.9,272.2L343.9,275.2L333.9,275.3L335.1,274.2L337.2,274.0L339.0,272.2L340.1,271.5L342.0,269.3L341.6,266.0L342.5,263.8L342.8,262.4L344.3,260.7L346.5,259.5L348.1,258.4L349.7,255.7L350.4,254.1Z"/>
<path fill="#a8ddb5" d="M390.2,286.2L382.5,291.1L376.1,296.3L372.9,297.4L370.4,297.7L370.3,296.0L369.3,295.6L367.9,294.9L367.3,293.6L359.7,287.9L352.2,282.2L343.8,275.9L343.9,275.4L343.9,275.2L343.9,272.2L347.6,270.2L349.8,269.8L351.6,269.1L352.5,267.8L355.1,266.8L355.2,264.8L356.4,264.6L357.4,263.7L360.3,263.2L360.7,262.2L360.2,261.7L359.4,258.9L359.3,257.3L358.5,255.6L360.6,254.2L362.9,253.8L364.3,252.7L366.4,251.9L370.0,251.4L373.6,251.2L374.7,251.6L376.7,250.6L379.0,250.6L379.9,251.2L381.3,251.0L381.0,252.4L381.4,254.8L380.9,257.0L379.6,258.4L379.8,260.4L381.7,261.9L381.7,262.6L383.1,263.6L384.2,268.3L384.9,270.6L385.1,271.8L384.7,274.0L384.9,275.2L384.7,276.6L384.9,278.2L384.0,279.3L385.4,281.2L385.5,282.3L386.3,283.8L387.4,283.3L389.2,284.5Z"/>
<path fill="#7bccc4" d="M384.2,268.3L383.1,263.6L381.7,262.6L381.7,261.9L379.8,260.4L379.6,258.4L380.9,257.0L381.4,254.8L381.0,252.4L381.3,251.0L383.7,250.0L385.2,250.3L385.2,251.6L387.0,250.6L387.1,251.1L386.1,252.4L386.1,253.6L386.9,254.3L386.7,256.5L385.3,257.8L385.8,259.2L386.9,259.3L387.5,260.5L388.3,260.9L388.3,262.9L387.2,263.7L386.6,264.5L385.1,265.5L385.4,266.6L385.2,267.7Z"/>
<path fill="#7bccc4" d="M440.6,270.4L440.1,271.5L439.8,273.5L439.3,274.8L438.8,275.3L438.0,274.4L436.9,273.2L435.0,269.5L434.8,269.8L435.9,272.5L437.5,275.1L439.5,279.2L440.4,280.6L441.2,282.1L443.4,285.0L443.0,285.4L443.2,287.1L445.9,289.5L446.4,290.0L437.4,290.0L428.7,290.0L419.6,290.0L419.2,280.4L418.6,271.1L417.8,269.0L418.3,267.4L417.9,266.3L418.6,265.0L421.5,265.0L423.7,265.7L425.9,266.4L427.0,266.9L428.6,266.0L429.5,265.3L431.4,265.1L433.0,265.4L433.7,266.7L434.1,265.8L436.0,266.5L437.7,266.6L438.7,265.9Z"/>
<path fill="#ccebc5" d="M335.4,309.3L333.9,307.5L332.6,305.5L331.1,304.9L330.0,304.1L328.7,304.1L327.6,304.7L326.5,304.5L325.7,305.3L325.5,303.9L326.2,302.6L326.5,300.1L326.3,297.6L326.1,296.3L326.4,295.0L325.8,293.7L324.6,292.6L325.1,291.7L334.0,291.7L333.6,288.0L334.2,288.0L336.3,286.4L336.4,279.7L343.8,279.9L343.8,275.9L352.2,282.2L348.7,282.3L349.7,293.5L350.7,304.8L351.1,305.1L350.6,307.0L341.4,307.0L341.1,307.6L340.2,307.4L338.9,307.9L337.3,307.2L336.6,307.2L336.2,308.8Z"/>
<path fill="#a8ddb5" d="M335.4,309.3L336.2,308.8L336.6,307.2L337.3,307.2L338.9,307.9L340.2,307.4L341.1,307.6L341.4,307.0L350.6,307.0L351.1,305.1L350.7,304.8L349.7,293.5L348.7,282.3L352.2,282.2L359.7,287.9L367.3,293.6L367.9,294.9L369.3,295.6L370.3,296.0L370.4,297.7L372.9,297.4L372.9,303.4L371.7,305.2L371.5,306.8L369.5,307.2L366.4,307.4L365.5,308.3L364.0,308.4L362.6,308.5L362.0,307.9L360.8,308.3L358.6,309.4L358.2,310.2L356.4,311.4L356.1,312.1L355.2,312.6L354.0,312.3L353.4,312.9L353.1,314.7L351.2,316.8L351.3,317.7L350.7,318.8L350.8,320.3L349.9,320.7L349.3,321.0L349.0,320.0L348.3,320.2L347.9,320.2L347.5,320.9L345.7,320.9L345.1,320.5L344.8,320.8L344.1,320.0L344.2,319.2L343.9,318.9L343.4,319.2L343.5,318.3L344.0,317.7L343.1,316.6L342.8,315.9L342.3,315.3L341.8,315.2L341.3,315.6L340.6,315.9L339.9,316.5L338.9,316.3L338.3,315.6L337.9,315.5L337.3,315.9L337.0,315.9L336.9,314.9L337.0,314.1L336.8,313.1L335.9,312.4L335.5,310.9Z"/>
<path fill="#a8ddb5" d="M325.0,311.9L324.1,309.9L323.0,309.0L324.0,308.5L325.1,306.6L325.7,305.3L326.5,304.5L327.6,304.7L328.7,304.1L330.0,304.1L331.1,304.9L332.6,305.5L333.9,307.5L335.4,309.3L335.5,310.9L335.9,312.4L336.8,313.1L337.0,314.1L336.9,314.9L336.5,315.1L335.3,314.9L335.1,315.2L334.6,315.2L332.9,314.6L331.8,314.6L327.6,314.4L327.0,314.7L326.2,314.7L325.0,315.1L324.7,313.1L326.8,313.1L327.3,312.8L327.7,312.8L328.6,312.1L329.6,312.7L330.5,312.8L331.6,312.1L331.1,311.4L330.3,311.8L329.6,311.8L328.7,311.2L328.0,311.2L327.5,311.9Z"/>
<path fill="#a8ddb5" d="M365.6,331.9L362.0,333.5L360.8,334.4L358.7,335.1L356.6,334.4L356.7,333.3L355.7,331.1L356.3,328.1L357.3,326.0L356.7,322.2L356.4,320.3L356.5,318.8L360.4,318.7L361.5,318.9L362.2,318.4L363.2,318.6L363.1,319.5L364.0,320.8L364.0,322.7L364.3,324.8L364.8,325.7L364.3,328.1L364.5,329.4L365.1,331.0Z"/>
<path fill="#a8ddb5" d="M441.3,349.9L441.7,350.2L450.0,355.5L450.2,357.0L453.4,359.6L452.3,362.8L452.4,364.3L453.9,365.2L453.9,365.9L453.3,367.5L453.4,368.3L453.2,369.6L454.0,371.2L454.8,373.8L455.7,374.3L453.8,375.8L451.3,376.9L449.9,376.8L449.0,377.6L447.5,377.6L446.8,378.0L444.1,377.2L442.4,377.5L441.8,373.9L441.1,372.7L440.6,372.0L438.4,371.5L437.1,370.7L435.7,370.3L434.8,369.8L433.8,369.2L432.6,365.9L431.3,364.4L430.9,362.9L431.1,361.5L430.7,359.1L431.7,359.0L432.6,358.1L433.5,356.7L434.0,356.2L434.0,355.3L433.5,354.7L433.4,353.7L434.1,353.4L434.2,351.8L433.3,350.3L434.1,350.0L436.6,350.1Z"/>
<path fill="#ccebc5" d="M449.7,308.4L451.1,309.5L452.4,308.9L453.0,309.5L454.6,309.5L456.6,310.6L457.3,311.5L458.3,312.3L459.3,313.8L460.1,314.7L459.4,315.8L458.6,317.1L458.8,317.8L458.9,318.6L460.2,318.6L460.7,318.4L461.3,318.9L460.8,319.8L461.7,321.3L462.6,322.5L463.5,323.4L471.1,326.5L473.0,326.5L466.7,334.4L463.7,334.5L461.7,336.3L460.2,336.4L459.6,337.2L458.0,337.2L457.1,336.3L455.0,337.4L454.3,338.5L452.8,338.3L452.3,338.0L451.7,338.0L451.0,338.0L448.1,335.8L446.4,335.8L445.7,334.9L445.6,333.5L444.4,333.0L443.0,330.2L442.0,329.6L441.5,328.5L440.3,327.3L438.9,327.1L439.7,325.6L440.9,325.5L441.2,324.8L441.1,322.4L441.8,319.7L442.8,318.9L443.0,317.9L443.9,315.9L445.3,314.6L446.1,312.0L446.4,309.8L449.1,310.3Z"/>
<path fill="#a8ddb5" d="M433.5,405.5L432.3,405.2L431.6,405.5L430.5,405.1L429.6,405.0L428.2,403.9L426.5,403.5L425.9,401.8L425.9,400.9L425.0,400.6L422.5,397.7L421.8,396.2L421.4,395.8L420.6,393.7L423.1,394.0L423.9,394.3L424.6,394.2L426.0,392.5L428.0,390.4L428.9,390.2L429.2,389.3L430.5,388.2L432.2,387.9L432.3,388.8L434.2,388.8L435.3,389.3L435.7,390.0L436.8,390.2L438.0,391.0L437.8,394.3L437.3,396.1L437.1,398.1L437.4,398.9L437.1,400.4L436.7,400.6L436.0,402.5Z"/>
<path fill="#a8ddb5" d="M421.4,395.8L421.8,396.2L422.5,397.7L425.0,400.6L425.9,400.9L425.9,401.8L426.5,403.5L428.2,403.9L429.6,405.0L426.3,407.0L424.2,408.9L423.4,410.6L422.7,411.6L421.4,411.8L421.0,413.1L420.7,413.9L419.2,414.5L417.4,414.4L416.4,413.6L415.4,413.3L414.3,413.9L413.7,415.2L412.6,416.0L411.5,417.1L409.8,417.4L409.4,416.5L409.7,414.9L408.4,412.4L407.9,412.0L408.1,404.4L410.3,404.3L410.7,395.0L412.4,394.9L415.9,394.0L416.7,395.1L418.2,394.1L418.9,394.1L420.2,393.5L420.6,393.7Z"/>
<path fill="#7bccc4" d="M399.5,422.0L397.9,420.0L397.1,418.1L396.7,415.6L396.2,413.6L395.6,409.6L395.6,406.5L395.4,405.1L394.5,404.0L393.4,401.9L392.3,398.7L391.8,397.1L390.0,394.5L389.9,392.5L391.0,392.0L392.3,391.6L393.8,391.7L395.2,392.9L395.5,392.7L404.7,392.6L406.3,393.8L411.8,394.2L416.0,393.1L417.8,392.5L419.3,392.7L420.2,393.3L420.2,393.5L418.9,394.1L418.2,394.1L416.7,395.1L415.9,394.0L412.4,394.9L410.7,395.0L410.3,404.3L408.1,404.4L407.9,412.0L407.4,421.7L405.4,423.0L404.2,423.2L402.8,422.7L401.8,422.5L401.5,421.4L400.6,420.7Z"/>
<path fill="#7bccc4" d="M433.1,423.7L432.7,424.1L431.6,425.4L430.9,426.8L429.5,428.7L426.7,431.3L425.0,432.9L423.3,434.1L420.9,435.1L419.8,435.3L419.5,436.0L418.1,435.6L417.0,436.1L414.7,435.6L413.4,435.9L412.5,435.7L410.1,436.8L408.3,437.2L406.8,438.2L405.9,438.3L405.0,437.3L404.3,437.3L403.4,436.1L403.3,436.5L403.0,435.8L403.1,434.2L402.5,432.5L403.2,432.0L403.3,430.0L402.0,427.6L401.0,425.4L399.5,422.0L400.6,420.7L401.5,421.4L401.8,422.5L402.8,422.7L404.2,423.2L405.4,423.0L407.4,421.7L407.9,412.0L408.4,412.4L409.7,414.9L409.4,416.5L409.8,417.4L411.5,417.1L412.6,416.0L413.7,415.2L414.3,413.9L415.4,413.3L416.4,413.6L417.4,414.4L419.2,414.5L420.7,413.9L421.0,413.1L421.4,411.8L422.7,411.6L423.4,410.6L424.2,408.9L426.3,407.0L429.6,405.0L430.5,405.1L431.6,405.5L432.3,405.2L433.5,405.5L434.4,409.1L434.9,411.0L434.3,413.9L434.5,414.8L433.4,414.4L432.7,414.5L432.4,415.3L431.8,416.3L431.7,417.2L433.0,418.6L434.3,418.3L434.8,417.1L436.5,417.2L435.8,419.1L435.4,421.2L434.7,422.4ZM427.5,423.0L428.2,423.7L427.5,425.0L427.0,425.9L425.7,426.3L425.3,427.1L424.5,427.4L423.0,425.4L424.3,423.7L425.5,422.7L426.6,422.2Z"/>
<path fill="#ccebc5" d="M476.6,379.9L477.2,381.1L477.6,382.8L477.8,385.9L478.3,387.1L478.0,388.4L477.6,389.1L476.9,387.6L476.4,388.4L476.7,390.3L476.5,391.4L475.8,392.0L475.5,394.2L474.4,397.3L473.0,400.9L471.3,405.8L470.1,409.4L468.8,412.5L466.9,413.1L464.9,414.2L463.7,413.5L462.0,412.6L461.5,411.2L461.5,408.9L460.9,406.8L460.8,405.0L461.3,403.1L462.4,402.6L462.4,401.7L463.6,399.8L463.9,398.1L463.5,396.9L463.2,395.2L463.1,392.8L464.0,391.4L464.4,389.7L465.6,389.6L466.9,389.1L467.7,388.6L468.8,388.6L470.1,387.1L472.1,385.5L472.9,384.2L472.6,383.0L473.6,383.4L474.9,381.6L475.0,380.0L475.8,378.8Z"/>
<path fill="#7bccc4" d="M493.0,399.8L493.9,399.6L494.0,400.5L493.3,400.9Z"/>
<path fill="#a8ddb5" d="M512.1,237.2L511.1,237.7L508.9,239.5L508.5,241.3L507.7,241.4L506.8,240.1L504.0,240.0L503.0,237.9L502.0,237.9L501.3,235.3L498.3,233.4L494.8,233.6L492.4,234.0L489.8,231.7L487.8,230.7L484.1,228.9L483.6,228.7L478.7,230.2L481.3,239.7L480.2,239.8L478.3,237.8L476.7,237.1L474.4,237.6L473.7,238.5L473.4,237.8L473.7,236.8L473.1,235.9L470.4,235.0L468.9,232.7L467.6,232.0L467.4,231.2L469.4,231.4L469.0,229.5L470.7,229.1L472.6,229.5L472.3,227.0L471.5,225.4L469.5,225.6L467.6,224.9L465.5,226.1L463.8,226.6L462.6,226.2L462.5,224.9L460.8,223.2L459.3,223.2L457.2,221.5L457.9,219.6L457.1,219.1L458.0,216.3L460.5,217.8L460.2,215.9L463.5,213.2L466.6,213.1L471.5,214.9L474.2,215.9L475.9,214.8L479.1,214.8L482.0,216.1L482.4,215.3L485.2,215.4L485.3,214.2L481.5,212.5L482.9,211.3L482.3,210.6L483.9,210.0L481.9,208.3L482.4,207.4L489.3,206.6L490.0,206.0L494.4,205.0L495.7,204.0L499.4,204.5L501.2,207.1L502.9,206.5L505.8,207.3L506.3,208.7L508.1,208.6L511.8,206.2L511.5,207.0L514.9,208.9L522.3,215.3L522.8,213.9L526.2,215.4L528.7,214.8L530.0,215.2L531.7,216.7L533.3,217.1L534.7,218.2L537.1,217.9L538.9,219.4L538.2,221.1L536.6,221.3L537.6,223.9L537.0,225.1L532.6,224.2L533.0,228.8L532.2,229.4L528.5,230.4L532.0,234.9L530.8,235.5L531.6,237.0L530.1,236.6L528.7,235.7L525.5,235.4L522.0,235.3L521.4,235.6L518.0,234.5L517.0,235.1L517.2,236.6L513.5,235.7L512.2,236.1Z"/>
<path fill="#7bccc4" d="M512.1,237.2L512.2,236.1L513.5,235.7L517.2,236.6L517.0,235.1L518.0,234.5L521.4,235.6L522.0,235.3L525.5,235.4L528.7,235.7L530.1,236.6L531.6,237.0L531.5,237.6L528.6,239.0L528.3,240.0L525.6,240.3L525.4,242.0L523.0,241.6L521.7,242.1L520.1,243.4L520.6,244.0L520.2,244.6L516.2,244.9L513.4,244.1L511.1,244.3L510.9,242.8L513.3,243.2L513.9,242.5L515.5,242.7L517.7,240.8L514.8,239.5L513.5,240.1L511.6,239.1L512.8,237.5Z"/>
<path fill="#0868ac" d="M441.5,262.1L441.2,262.9L441.4,264.5L441.1,265.2L441.3,266.3L440.6,270.4L438.7,265.9L439.3,265.1L439.1,264.9L439.6,263.7L439.8,261.7L440.0,261.1L440.1,261.1L440.8,261.1L441.0,260.6L441.6,260.6L441.7,261.6L441.5,262.0Z"/>
<path fill="#43a2ca" d="M441.2,262.9L441.5,262.1L444.1,263.1L448.0,260.3L449.3,263.5L448.9,263.9L444.7,265.2L447.1,267.8L446.5,268.2L446.2,269.1L444.5,269.5L444.1,270.4L443.2,271.2L440.7,270.8L440.6,270.4L441.3,266.3L441.1,265.2L441.4,264.5Z"/>
<path fill="#7bccc4" d="M496.2,292.3L495.5,294.1L494.5,294.0L494.1,294.6L493.8,295.9L494.2,297.6L494.0,298.0L493.0,298.0L491.7,298.9L491.5,300.2L491.1,300.7L489.7,300.7L488.8,301.4L488.9,302.4L487.9,303.2L486.6,302.9L485.1,303.8L484.1,304.0L483.2,302.1L481.1,297.8L487.7,295.2L488.8,290.0L487.6,288.1L487.5,287.1L488.1,286.0L488.0,285.0L489.0,284.4L488.5,284.1L488.6,282.4L489.7,282.4L490.9,284.2L492.2,285.1L493.9,285.4L495.3,285.9L496.5,287.4L497.2,288.3L498.0,288.6L498.1,289.2L497.4,290.8L497.1,291.5ZM489.4,279.8L489.2,280.3L488.6,279.4L489.2,278.5L489.5,278.8Z"/>
<path fill="#43a2ca" d="M479.1,284.1L479.5,284.0L479.6,284.7L481.3,284.3L483.2,284.4L484.6,284.5L485.9,282.7L487.4,281.0L488.6,279.4L489.2,280.3L489.7,282.4L488.6,282.4L488.5,284.1L489.0,284.4L488.0,285.0L488.1,286.0L487.5,287.1L487.6,288.1L487.2,288.7L480.3,287.4L479.2,284.8Z"/>
<path fill="#a8ddb5" d="M525.0,250.5L527.0,251.7L528.1,253.7L532.0,254.8L530.5,257.0L528.1,257.4L524.7,256.7L523.9,257.9L525.2,260.1L526.4,261.9L528.4,263.2L526.9,264.7L527.3,266.6L525.7,269.2L524.8,271.8L523.0,274.6L520.4,274.4L518.4,277.1L520.0,278.3L520.6,280.3L522.0,281.6L522.7,283.8L517.8,283.8L516.5,285.6L514.8,284.9L513.9,283.1L511.9,281.0L507.8,281.5L504.2,281.6L501.1,282.0L501.6,278.9L504.6,277.6L504.2,276.4L503.1,276.0L502.7,273.7L500.4,272.5L499.3,271.0L498.0,269.6L501.9,270.9L504.0,270.5L505.4,270.8L505.8,270.3L507.4,270.5L510.1,269.4L509.7,267.2L510.7,265.7L512.3,265.7L512.4,265.0L514.0,264.7L514.9,264.9L515.6,264.2L515.1,262.6L515.7,261.0L517.0,260.4L515.7,258.6L517.8,258.7L518.2,257.8L517.9,256.8L518.7,255.7L518.1,254.4L517.3,253.3L518.3,252.1L520.5,251.6L522.9,251.3L523.9,250.8Z"/>
<path fill="#43a2ca" d="M532.0,254.8L535.1,257.9L535.4,260.0L536.7,261.3L536.9,262.7L535.3,262.3L536.5,265.2L539.1,266.8L542.6,268.7L541.4,269.8L541.1,272.3L543.4,273.2L545.8,274.5L548.9,276.0L552.1,276.4L553.6,277.7L555.4,277.9L558.2,278.5L560.0,278.5L560.1,277.4L559.5,275.8L559.4,274.7L560.7,274.1L561.3,276.2L561.4,276.7L563.6,277.7L565.0,277.3L566.9,277.4L568.7,277.4L568.5,275.8L567.4,274.9L569.2,274.6L570.7,272.7L572.9,271.0L574.9,271.7L576.2,270.6L577.7,272.2L577.2,273.3L579.7,273.7L580.1,274.7L579.4,275.1L579.9,276.7L578.3,276.3L575.7,278.1L576.1,279.6L575.3,281.8L575.4,283.0L574.8,285.2L572.9,284.6L573.3,287.3L572.9,288.2L573.3,289.3L572.2,289.9L570.4,285.7L569.8,285.8L569.7,287.4L568.3,286.1L568.7,284.6L569.7,284.4L570.4,282.2L569.0,281.8L566.9,281.8L564.7,281.5L564.2,279.6L563.1,279.5L561.1,278.4L560.7,280.2L562.5,281.5L561.3,282.5L560.9,283.5L562.4,284.2L562.3,285.7L563.4,287.7L564.0,289.8L563.8,290.8L562.3,290.8L559.6,291.3L560.0,293.3L559.0,294.8L555.9,296.6L553.8,299.7L552.3,301.3L550.2,303.0L550.3,304.2L549.2,304.8L547.3,305.8L546.2,305.9L545.8,307.9L546.5,311.3L546.9,313.5L546.1,315.9L546.4,320.4L545.2,320.5L544.3,322.5L545.0,323.3L542.9,324.1L542.3,325.9L541.4,326.6L539.1,324.2L537.8,320.5L536.8,317.9L535.9,316.7L534.5,314.2L533.7,310.9L533.1,309.3L530.7,305.7L529.3,300.6L528.3,297.3L527.9,294.1L527.2,291.7L524.1,293.2L522.5,292.9L519.2,289.8L520.2,288.8L519.4,287.8L516.5,285.6L517.8,283.8L522.7,283.8L522.0,281.6L520.6,280.3L520.0,278.3L518.4,277.1L520.4,274.4L523.0,274.6L524.8,271.8L525.7,269.2L527.3,266.6L526.9,264.7L528.4,263.2L526.4,261.9L525.2,260.1L523.9,257.9L524.7,256.7L528.1,257.4L530.5,257.0Z"/>
<path fill="#a8ddb5" d="M551.2,327.8L551.0,330.5L550.0,331.2L548.0,331.8L546.9,329.8L546.3,326.0L547.1,321.8L548.8,323.2L549.9,325.1Z"/>
<path fill="#a8ddb5" d="M603.5,310.2L604.1,309.0L603.9,306.8L601.8,304.5L601.3,301.9L599.2,299.8L597.5,299.6L597.2,300.5L595.8,300.6L595.1,300.1L592.9,301.7L592.6,299.4L592.7,296.6L591.2,296.5L590.8,294.9L589.7,294.1L590.0,293.2L591.7,291.5L592.0,292.1L593.2,292.2L592.4,289.2L593.5,288.8L595.1,290.8L596.5,293.2L599.3,293.2L600.5,295.5L599.2,296.2L598.7,297.1L601.6,298.7L604.0,301.8L605.8,304.1L607.7,305.9L608.6,307.7L608.5,310.3L606.4,309.4L605.5,311.2Z"/>
<path fill="#a8ddb5" d="M600.5,319.7L599.5,318.3L598.1,315.6L597.2,312.5L598.4,310.3L601.3,309.8L603.5,310.2L605.5,311.2L606.4,309.4L608.5,310.3L609.2,312.1L609.3,315.2L605.6,317.2L606.8,318.8L604.4,319.0L602.5,320.0Z"/>
<path fill="#0868ac" d="M595.7,331.2L595.9,332.6L597.4,332.2L598.1,331.2L598.7,331.4L600.1,333.0L601.2,334.7L601.4,336.5L601.1,337.7L601.4,338.6L601.6,340.1L602.4,340.8L603.4,343.1L603.4,344.0L601.8,344.2L599.5,342.3L596.8,340.2L596.4,338.9L595.1,337.1L594.7,335.0L593.8,333.5L594.0,331.6L593.4,330.5L593.8,330.1ZM636.3,335.7L634.6,336.6L632.6,336.2L630.0,336.2L629.3,339.1L628.4,340.0L627.3,343.7L625.5,344.2L623.3,343.5L622.2,343.7L620.8,345.1L619.4,344.8L617.9,345.4L616.3,343.9L615.9,342.2L617.6,343.1L619.3,342.6L619.7,340.4L620.7,339.9L623.5,339.3L625.0,337.3L626.1,335.6L627.2,336.9L627.7,336.1L628.8,336.1L628.8,334.5L628.9,333.2L630.5,331.4L631.6,329.3L632.5,329.3L633.8,330.6L633.9,331.8L635.5,332.5L637.5,333.3L637.3,334.3L635.8,334.4Z"/>
<path fill="#7bccc4" d="M606.7,362.7L604.1,362.7L602.3,360.6L599.4,358.4L598.5,356.8L596.8,354.7L595.7,352.7L594.0,349.1L592.0,346.9L591.3,344.7L590.4,342.7L588.3,341.0L587.0,338.8L585.2,337.3L582.7,334.4L582.5,333.1L584.0,333.2L587.5,333.7L589.7,336.3L591.5,338.0L592.8,339.1L595.1,341.9L597.4,342.0L599.4,343.7L600.8,345.9L602.5,347.1L601.6,349.3L602.9,350.2L603.7,350.2L604.1,352.0L604.8,353.5L606.5,353.7L607.6,355.4L606.9,358.6ZM607.2,362.8L605.5,365.3L607.6,365.5L607.9,366.6L612.0,367.7L613.0,367.3L617.2,368.6L619.4,369.1L621.8,369.3L623.8,369.2L626.3,370.2L629.0,369.2L626.3,367.7L622.9,367.2L622.1,365.5L618.5,364.3L617.9,364.3L616.3,365.4L613.0,365.1L612.7,364.2L610.0,362.9ZM634.6,336.6L633.4,339.0L635.2,341.4L634.8,342.6L637.4,345.1L634.7,345.4L634.0,347.1L634.0,349.5L631.8,351.3L631.7,353.9L630.6,357.9L630.3,356.9L627.7,358.1L626.8,356.5L625.2,356.4L624.1,355.5L621.3,356.5L620.5,355.2L619.0,355.4L617.1,355.0L616.8,351.5L615.7,350.8L614.6,348.6L614.3,346.3L614.5,343.9L615.9,342.2L616.3,343.9L617.9,345.4L619.4,344.8L620.8,345.1L622.2,343.7L623.3,343.5L625.5,344.2L627.3,343.7L628.4,340.0L629.3,339.1L630.0,336.2L632.6,336.2ZM639.9,348.8L641.9,351.1L643.2,349.9L647.5,349.0L647.2,350.2L646.2,349.8L645.2,351.4L643.2,352.4L645.2,355.7L644.8,356.6L646.7,359.6L646.6,361.3L645.4,362.1L644.5,361.2L645.7,359.0L643.4,360.1L642.9,359.3L643.2,358.3L641.6,356.8L641.9,354.3L640.3,355.0L640.4,358.1L640.3,361.8L638.8,362.2L637.9,361.4L638.7,359.0L638.4,356.5L637.4,356.5L636.8,354.7L637.8,353.0L638.2,350.9L639.4,347.0L639.9,345.9L641.8,344.0L643.6,344.8L646.5,345.1L649.1,345.0L651.4,343.1L651.8,343.7L650.0,346.3L648.3,346.8L646.0,346.3L642.2,346.4L640.2,346.8ZM688.0,354.2L687.6,362.7L687.0,371.2L685.1,369.1L682.9,368.5L682.2,369.3L679.3,369.3L680.5,367.2L682.0,366.5L681.6,363.7L680.6,361.5L676.3,359.3L674.4,359.0L671.0,356.6L670.3,357.9L669.4,358.1L668.9,357.2L668.9,356.0L667.2,354.8L669.8,353.8L671.4,353.9L671.2,353.2L667.8,353.2L667.0,351.6L664.9,351.1L664.0,349.9L667.1,349.2L668.3,348.4L672.0,349.4L672.3,350.4L672.8,354.6L675.2,356.2L677.2,353.4L679.9,351.8L681.9,351.8L683.9,352.7L685.6,353.7ZM634.1,368.5L634.9,369.2L636.3,369.0L636.8,370.1L634.1,370.6L632.5,371.0L631.2,371.0L632.1,369.5L633.4,369.4ZM645.6,368.5L645.1,370.0L641.6,370.7L638.6,370.4L638.7,369.4L640.5,368.9L641.9,369.7L643.5,369.5ZM640.1,374.1L639.1,374.2L636.2,372.3L638.4,371.8L639.6,372.6L640.3,373.4ZM646.6,374.4L646.4,374.1L646.7,373.2L647.8,371.6L650.2,370.6L650.4,371.1L650.3,371.9L648.7,373.9ZM657.9,341.7L658.1,343.1L659.5,343.4L659.8,344.5L659.7,346.7L658.5,346.5L658.1,348.1L659.1,349.4L658.4,349.7L657.5,348.1L656.8,344.8L657.2,342.7ZM663.7,355.5L664.5,357.5L662.6,356.4L660.7,356.2L659.3,356.3L657.8,356.2L658.4,354.8L661.2,354.7ZM655.7,355.6L656.3,356.4L655.4,357.3L653.8,356.8L653.4,355.7ZM672.7,361.6L673.2,362.4L673.1,363.6L671.8,365.4L671.7,363.4L672.2,362.5Z"/>
<path fill="#43a2ca" d="M638.5,299.1L640.1,299.9L640.7,299.2L641.0,299.9L640.8,300.9L641.9,302.8L641.6,305.0L640.4,305.8L640.4,307.9L641.2,310.0L642.5,310.3L643.4,310.0L646.5,311.4L646.5,312.9L647.3,313.5L647.2,314.7L645.2,313.4L644.2,312.0L643.7,313.0L642.1,311.4L640.1,311.8L638.9,311.2L638.8,310.2L639.4,309.5L638.7,308.9L638.5,309.8L637.2,308.3L636.7,307.2L636.2,304.7L637.3,305.6L636.8,301.5L637.2,299.1ZM653.5,325.5L653.9,327.2L654.1,328.6L653.5,331.0L652.5,328.4L651.5,329.7L652.3,331.6L651.7,332.8L648.9,331.3L648.2,329.4L648.8,328.2L647.3,327.0L646.6,328.0L645.5,327.9L643.9,329.4L643.5,328.6L644.2,326.4L645.6,325.7L646.8,324.7L647.7,325.9L649.4,325.2L649.7,324.0L651.3,323.9L651.0,321.9L652.9,323.2L653.3,324.5ZM637.0,317.7L637.7,319.9L636.3,321.3L635.2,323.1L632.4,325.6L633.3,323.7L634.9,322.1L636.1,320.3ZM647.6,314.6L649.8,314.7L650.5,315.7L651.5,318.6L649.7,317.9L649.8,318.8L650.5,320.4L649.5,321.0L649.2,319.1L648.5,319.0L648.0,317.4L649.4,317.6L649.2,316.6ZM642.3,316.4L643.8,317.2L645.3,317.2L645.3,318.3L644.4,319.4L643.0,320.2L642.8,318.9L642.8,317.6ZM647.6,320.6L646.8,321.4L646.3,323.1L645.6,323.9L644.0,322.1L644.5,321.4L645.0,320.6L645.1,319.0L646.3,318.9L646.1,320.6L647.6,318.1ZM641.2,313.3L640.8,315.5L639.7,314.3L638.3,312.3L640.3,312.4Z"/>
<path fill="#0868ac" d="M665.8,245.2L665.3,247.8L666.7,250.5L667.0,252.6L668.0,253.9L667.8,255.7L665.6,256.9L661.8,257.1L660.0,260.1L658.1,259.1L657.2,257.1L653.6,257.7L651.6,258.9L649.1,259.0L652.1,260.9L652.4,265.3L651.4,266.4L649.9,265.4L649.6,263.1L647.9,262.3L646.3,260.5L648.0,259.7L648.4,258.1L650.0,256.7L650.8,255.0L654.8,254.2L657.4,254.7L657.4,250.1L659.4,251.3L661.3,248.7L661.9,247.7L661.5,244.5L659.5,241.6L659.4,240.0L661.3,239.5L664.7,243.1ZM656.7,258.3L657.4,259.2L656.8,260.8L655.6,259.9L654.7,260.5L654.8,262.1L653.1,261.3L652.6,260.1L653.1,258.5L654.5,258.8L654.9,257.7ZM661.9,232.3L663.8,232.8L664.5,231.8L666.9,234.6L664.3,235.3L664.1,237.9L659.7,236.1L660.4,239.0L658.0,239.0L656.1,236.5L655.9,234.5L658.0,234.3L656.2,230.8L655.5,228.8L659.7,231.4Z"/>
<path fill="#0868ac" d="M637.7,246.7L641.0,249.7L642.4,251.4L643.8,254.4L643.6,255.9L641.9,256.4L640.6,257.4L638.7,257.7L637.9,256.3L637.4,254.3L635.2,251.6L636.6,251.2L634.1,248.9L634.2,248.7L635.2,248.8L635.4,247.6L636.9,247.5L637.7,247.3Z"/>
<path fill="#ccebc5" d="M539.6,219.2L541.5,218.8L544.2,216.6L546.6,215.4L548.8,216.2L550.9,216.2L552.9,217.4L554.9,217.5L558.1,218.1L559.1,216.4L557.5,214.9L558.0,212.3L560.8,213.3L562.8,213.6L565.5,214.3L567.0,216.2L570.5,217.2L572.1,216.7L574.4,216.4L576.6,216.8L579.3,218.0L581.3,219.3L583.1,219.2L585.9,219.6L587.4,219.0L589.8,218.6L591.6,216.8L592.9,217.1L594.5,217.9L596.8,217.7L597.0,219.6L597.1,222.2L598.3,223.2L599.2,222.9L601.5,223.3L602.5,222.3L604.6,223.1L607.5,224.9L607.8,225.9L606.0,225.5L603.3,225.9L602.3,226.6L601.7,228.3L599.1,229.3L597.8,230.7L595.4,230.2L594.1,229.9L593.9,231.6L595.1,232.6L595.9,233.4L594.9,234.3L594.1,235.7L592.1,236.6L589.0,236.7L586.1,237.6L584.3,238.9L583.0,238.1L580.4,238.1L576.6,236.6L574.4,236.2L571.8,236.6L567.2,236.0L564.9,236.0L563.0,234.5L561.0,232.1L559.5,231.8L556.3,230.2L553.4,229.9L550.7,229.4L549.5,228.3L549.0,225.3L546.6,223.3L543.3,222.3L540.9,221.0Z"/>
<path fill="#0868ac" d="M637.2,236.9L634.9,235.3L634.9,236.8L632.3,237.9L633.4,239.3L631.6,239.2L630.1,238.4L629.7,240.2L628.1,241.6L627.3,243.3L624.7,244.0L623.7,245.2L621.7,245.9L622.3,244.7L621.4,243.7L622.1,242.0L620.3,240.6L619.0,241.5L617.5,243.3L617.0,245.0L614.9,245.1L614.4,246.3L616.3,248.1L618.3,248.5L618.9,249.7L620.9,250.5L622.5,248.6L624.9,249.6L626.3,249.7L627.2,251.1L624.5,251.8L624.1,253.2L622.5,254.5L622.2,256.3L625.1,257.7L627.0,260.3L629.2,262.7L631.4,264.7L632.1,266.6L630.9,267.3L631.9,268.8L633.5,269.6L633.8,271.7L633.9,273.7L632.7,274.0L631.9,276.8L630.9,280.2L629.6,283.3L627.0,285.8L624.3,288.0L621.8,288.2L620.6,289.4L619.7,288.6L618.6,289.9L615.7,291.2L613.4,291.6L613.1,294.3L611.9,294.5L611.0,292.6L611.3,291.6L608.1,290.7L607.2,291.2L604.8,290.5L603.5,289.4L603.6,287.9L601.5,287.4L600.2,286.5L598.5,287.9L596.4,288.2L594.6,288.1L593.5,288.8L592.4,289.2L593.2,292.2L592.0,292.1L591.7,291.5L591.5,290.4L589.9,291.1L588.9,290.7L587.0,289.7L587.3,287.5L585.8,287.0L584.9,284.6L582.6,285.0L582.3,282.0L584.0,279.8L583.7,277.6L583.1,275.6L582.0,275.0L580.9,273.5L579.7,273.7L577.2,273.3L577.7,272.2L576.2,270.6L574.9,271.7L572.9,271.0L570.7,272.7L569.2,274.6L567.4,274.9L566.3,274.2L565.1,274.2L563.4,273.6L562.3,274.2L561.3,276.2L560.7,274.1L559.4,274.7L556.8,274.4L554.1,273.8L552.1,272.7L550.2,272.2L549.2,270.9L547.9,270.5L545.3,268.8L543.4,268.0L542.6,268.7L539.1,266.8L536.5,265.2L535.3,262.3L536.9,262.7L536.7,261.3L535.4,260.0L535.1,257.9L532.0,254.8L528.1,253.7L527.0,251.7L525.0,250.5L524.4,249.8L523.7,248.3L523.5,247.3L522.0,246.7L521.4,246.9L520.2,244.6L520.6,244.0L520.1,243.4L521.7,242.1L523.0,241.6L525.4,242.0L525.6,240.3L528.3,240.0L528.6,239.0L531.5,237.6L531.6,237.0L530.8,235.5L532.0,234.9L528.5,230.4L532.2,229.4L533.0,228.8L532.6,224.2L537.0,225.1L537.6,223.9L536.6,221.3L538.2,221.1L538.9,219.4L539.6,219.2L540.9,221.0L543.3,222.3L546.6,223.3L549.0,225.3L549.5,228.3L550.7,229.4L553.4,229.9L556.3,230.2L559.5,231.8L561.0,232.1L563.0,234.5L564.9,236.0L567.2,236.0L571.8,236.6L574.4,236.2L576.6,236.6L580.4,238.1L583.0,238.1L584.3,238.9L586.1,237.6L589.0,236.7L592.1,236.6L594.1,235.7L594.9,234.3L595.9,233.4L595.1,232.6L593.9,231.6L594.1,229.9L595.4,230.2L597.8,230.7L599.1,229.3L601.7,228.3L602.3,226.6L603.3,225.9L606.0,225.5L607.8,225.9L607.5,224.9L604.6,223.1L602.5,222.3L601.5,223.3L599.2,222.9L598.3,223.2L597.1,222.2L597.0,219.6L596.8,217.7L599.8,218.7L601.6,217.1L600.8,216.0L600.8,213.3L601.3,212.5L600.2,211.1L598.7,210.5L599.4,209.3L601.5,208.9L604.0,208.8L607.5,209.5L610.0,210.4L613.1,213.0L614.7,214.0L616.5,215.6L619.0,218.1L623.1,218.9L626.7,220.7L629.1,223.0L632.2,223.0L633.3,222.1L636.1,221.3L636.6,223.6L636.5,224.5L637.6,227.3L637.9,229.8L635.1,229.4L633.9,230.3L635.8,232.5L637.4,235.5L636.4,235.6ZM613.5,298.7L611.8,299.9L609.8,299.1L609.4,296.9L610.3,295.7L612.7,295.0L614.0,295.0L614.6,296.0L613.8,297.1Z"/>
<path fill="#7bccc4" d="M691.3,383.3L691.8,385.4L693.4,384.4L694.0,385.5L694.9,386.5L694.5,387.7L694.6,389.9L694.7,391.2L695.2,391.5L695.3,393.7L694.8,395.1L695.2,396.9L697.3,398.2L698.7,399.5L699.9,400.6L699.5,401.2L700.4,402.9L700.7,405.7L701.7,405.1L702.3,406.3L703.0,405.8L702.7,408.6L703.9,410.2L704.6,411.2L705.8,413.3L705.8,415.4L705.3,416.9L704.6,418.5L704.9,420.7L703.9,423.1L703.1,424.3L701.5,426.6L700.9,428.1L699.6,430.0L697.6,432.3L695.4,433.6L693.6,435.6L692.2,436.9L690.4,439.2L688.9,440.5L687.4,442.4L686.1,444.2L685.7,445.1L684.0,445.9L681.5,446.0L679.0,447.1L677.4,448.1L675.5,449.2L674.4,448.1L673.3,447.6L674.4,446.3L673.0,446.8L670.0,448.6L668.6,447.9L667.6,447.5L666.5,447.3L664.8,446.6L664.3,445.0L664.9,443.0L665.5,440.6L664.5,440.6L662.6,440.3L663.9,439.1L664.2,437.1L662.3,438.9L660.2,439.4L662.0,438.0L663.0,436.5L664.4,435.2L665.1,433.2L662.3,435.5L660.6,436.3L658.8,438.4L657.6,437.4L658.3,436.0L657.7,434.1L657.0,433.1L657.6,432.5L655.5,430.9L654.0,430.8L652.3,429.6L648.3,429.8L645.1,430.8L642.3,431.6L640.2,431.5L637.4,432.8L635.3,433.4L634.3,434.8L633.1,435.8L631.2,435.9L629.7,436.1L628.0,435.6L626.3,435.9L624.8,436.1L622.9,437.4L622.3,437.3L621.0,438.1L619.6,438.9L618.0,438.8L616.6,438.8L614.9,437.1L613.9,436.6L614.5,435.1L615.8,434.8L616.3,434.2L616.6,433.2L617.5,431.4L617.8,429.9L617.5,427.2L617.6,425.8L618.2,424.3L617.8,422.6L618.0,421.8L617.2,420.8L617.5,418.7L616.8,416.6L616.7,415.6L617.4,416.7L617.2,414.2L618.2,415.0L618.6,416.0L618.9,414.7L618.2,412.6L618.2,411.8L617.8,411.0L618.4,409.5L619.0,408.9L619.5,407.6L619.6,406.1L620.8,404.2L620.7,406.2L621.9,404.4L623.9,403.5L625.2,402.4L627.1,401.4L628.2,401.2L628.7,401.5L630.7,400.5L632.1,400.3L632.6,399.7L633.2,399.5L634.4,399.5L637.0,398.7L638.4,397.6L639.2,396.2L640.8,394.9L641.1,393.8L641.4,392.4L643.3,390.2L643.9,392.5L645.0,391.9L644.3,390.7L645.3,389.4L646.2,390.0L646.8,388.0L648.2,386.7L648.9,385.7L650.1,385.3L650.3,384.5L651.3,384.8L651.4,384.2L652.4,383.8L653.6,383.5L655.1,384.7L656.1,386.2L657.6,386.2L659.0,386.5L658.7,385.0L660.1,382.9L661.2,382.3L660.9,381.6L662.1,380.1L663.6,379.2L664.8,379.5L666.8,379.0L666.9,377.7L665.3,376.8L666.6,376.4L668.0,377.1L669.1,378.2L670.9,378.8L671.6,378.6L673.0,379.4L674.4,378.6L675.2,378.8L675.8,378.3L676.7,379.6L675.9,381.0L674.9,382.1L674.1,382.2L674.2,383.2L673.3,384.5L672.3,385.8L672.4,386.5L674.0,388.0L675.6,388.8L676.6,389.7L677.9,391.3L678.6,391.3L679.7,391.9L679.8,392.7L681.9,393.6L683.5,392.7L684.2,391.3L684.9,390.2L685.5,388.7L686.5,386.6L686.4,385.4L686.7,384.6L686.7,383.1L687.2,381.2L687.8,380.6L687.5,379.8L688.3,378.4L688.9,377.0L689.0,376.2L690.0,375.2L690.5,376.5L690.4,378.1L691.0,378.5L690.9,379.6L691.6,380.9L691.5,382.4ZM670.8,453.8L672.2,454.7L673.6,454.3L675.6,453.8L676.8,454.0L674.9,457.1L673.6,458.0L672.0,460.0L671.7,459.3L669.0,461.1L668.7,461.0L667.5,460.9L667.7,458.7L668.5,457.0L668.8,454.7L669.5,453.5ZM662.0,377.1L663.4,377.0L664.5,377.7L663.1,378.4L661.8,378.1ZM674.9,383.4L676.1,383.3L676.0,384.6L674.9,384.5ZM660.1,440.3L661.4,440.3L662.2,440.9L660.7,441.5L658.8,441.2Z"/>
<path fill="#7bccc4" d="M729.0,454.1L728.7,455.2L730.9,454.1L730.7,455.2L729.9,456.3L728.2,457.5L725.3,459.4L723.4,460.4L723.2,461.7L721.5,461.7L718.9,462.7L717.0,464.4L713.7,467.0L711.1,468.1L709.5,468.8L707.7,468.8L707.0,467.9L705.0,467.7L705.4,466.8L708.0,464.9L712.7,462.4L714.4,461.9L716.7,460.9L719.5,459.6L721.8,458.2L724.2,456.3L725.6,455.6L726.9,454.2L729.3,453.0ZM740.8,441.7L740.6,444.5L741.8,442.7L742.3,443.4L741.4,445.4L742.5,446.2L743.8,446.4L745.7,445.4L746.6,445.8L744.5,448.0L742.8,449.6L741.2,449.5L740.1,450.3L739.5,451.4L738.8,451.9L737.0,453.3L734.6,455.1L732.1,456.1L732.3,455.4L731.7,455.0L734.5,452.9L734.9,451.5L733.3,450.5L734.0,449.5L736.2,448.6L737.9,446.6L739.0,444.9L739.2,443.2L739.5,442.7L739.2,441.6L738.8,439.3L739.0,437.5L739.9,437.3L740.3,438.7L741.6,439.4Z"/>
</g>
<g id="legend">
<text class="leg" x="216" y="530.4" textLength="46.6" lengthAdjust="spacingAndGlyphs">No data</text>
<line x1="239.5" y1="534" x2="239.5" y2="537.5" stroke="#999" stroke-width="0.7"/>
<rect x="216.5" y="537.2" width="47" height="10.8" fill="url(#hatch)" stroke="#c8c8c8" stroke-width="0.8"/>
<g stroke="#c4c4c4" stroke-width="0.6">
<rect x="282.8" y="537.2" width="58.5" height="10.8" fill="#0868ac"/>
<rect x="341.3" y="537.2" width="58.5" height="10.8" fill="#43a2ca"/>
<rect x="399.8" y="537.2" width="58.6" height="10.8" fill="#7bccc4"/>
<rect x="458.4" y="537.2" width="58.5" height="10.8" fill="#a8ddb5"/>
<rect x="516.9" y="537.2" width="58.5" height="10.8" fill="#ccebc5"/>
<path d="M575.4,537.2H629.3L634.4,542.6L629.3,548H575.4Z" fill="#f0f9e8"/>
</g>
<g stroke="#777" stroke-width="0.7">
<line x1="282.8" y1="534.2" x2="282.8" y2="548"/><line x1="341.3" y1="534.2" x2="341.3" y2="548"/><line x1="399.8" y1="534.2" x2="399.8" y2="548"/><line x1="458.4" y1="534.2" x2="458.4" y2="548"/><line x1="516.9" y1="534.2" x2="516.9" y2="548"/><line x1="575.4" y1="534.2" x2="575.4" y2="548"/>
</g>
<g class="leg" text-anchor="middle">
<text x="282.8" y="530.4">0</text><text x="341.5" y="530.4">20</text><text x="400" y="530.4">40</text><text x="458.5" y="530.4">60</text><text x="517" y="530.4">80</text><text x="575.6" y="530.4">100</text>
</g>
</g>
<text class="foot" x="16.5" y="581.6" textLength="71.5" lengthAdjust="spacingAndGlyphs" font-weight="bold">Data source:</text>
<text class="foot" x="92" y="581.6" textLength="283" lengthAdjust="spacingAndGlyphs">ECI - Observatory of Economic Complexity (2016)</text>
<text class="foot" x="482.5" y="581.6" textLength="349.5" lengthAdjust="spacingAndGlyphs">OurWorldinData.org/how-and-why-econ-complexity | CC BY</text>
</svg>
</body></html>
